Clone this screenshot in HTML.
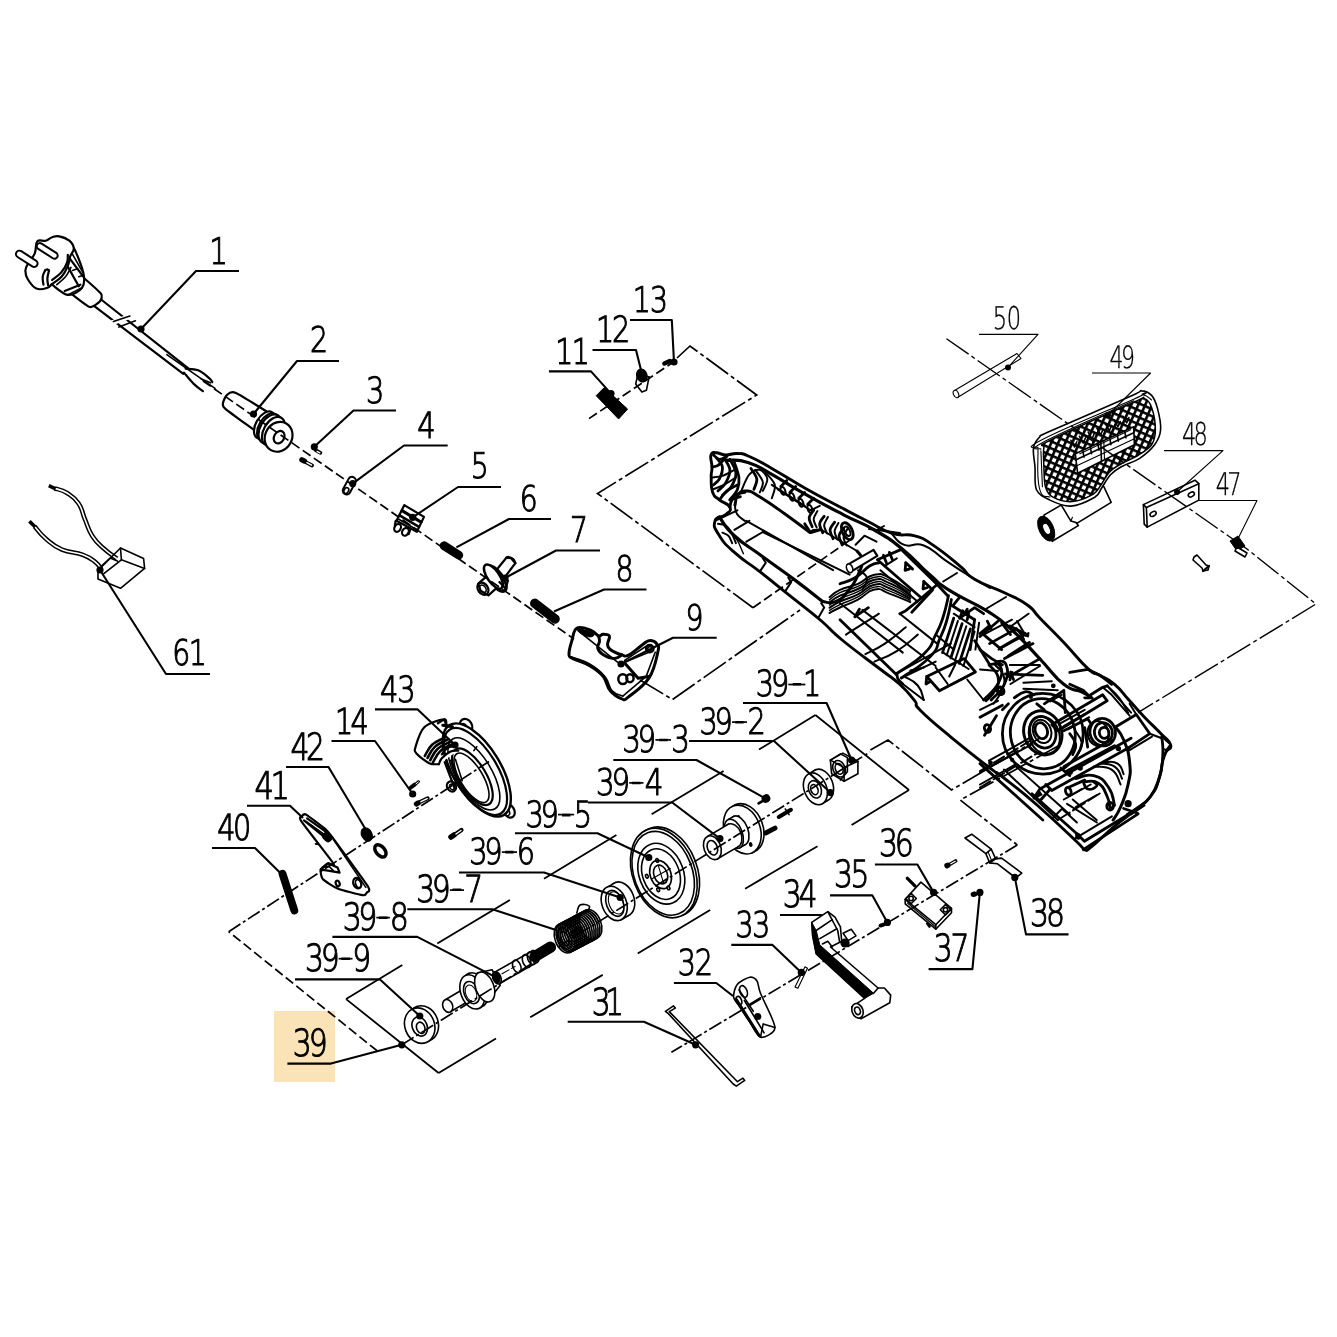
<!DOCTYPE html>
<html><head><meta charset="utf-8"><title>Exploded view</title>
<style>
html,body{margin:0;padding:0;background:#fff;}
svg{display:block}
.lb{text-rendering:geometricPrecision;font-family:"DejaVu Sans","Liberation Sans",sans-serif;font-weight:200;fill:#000;stroke:#000;}
.p{stroke:#000;fill:none;stroke-width:1.6;stroke-linecap:round;stroke-linejoin:round}
.pw{stroke:#000;fill:#fff;stroke-width:1.6;stroke-linecap:round;stroke-linejoin:round}
.t{stroke:#000;fill:none;stroke-width:1.1;stroke-linecap:round;stroke-linejoin:round}
.tw{stroke:#000;fill:#fff;stroke-width:1.1;stroke-linecap:round;stroke-linejoin:round}
.k{stroke:#000;fill:none;stroke-width:2.2;stroke-linecap:round;stroke-linejoin:round}
.kw{stroke:#000;fill:#fff;stroke-width:2.2;stroke-linecap:round;stroke-linejoin:round}
#hs .k{stroke-width:2.8} #hs .p{stroke-width:2.0} #hs .t{stroke-width:1.4}
.b{fill:#000;stroke:#000;stroke-width:1;stroke-linejoin:round}
</style></head>
<body>
<svg width="1337" height="1337" viewBox="0 0 1337 1337">
<rect width="1337" height="1337" fill="#fff"/>
<rect x="274" y="1011" width="61" height="71" fill="#fae3b7"/>
<g id="parts">
<!-- 10_plug.svg -->
<path class="k" d="M99.2 298.0L188.0 368.2" />
<path class="k" d="M93.0 305.1L183.3 373.9" />
<path class="kw" d="M83.5 277.6C85.3 279.2 99.5 291.4 101.1 293.8C102.8 296.1 101.2 299.9 100.0 301.2C98.9 302.5 92.6 307.7 89.8 307.0C87.0 306.3 73.6 295.4 71.8 294.1" />
<path class="kw" d="M67.8 245.4C68.9 245.9 71.5 243.8 74.1 248.6C76.7 253.3 82.2 267.1 83.5 273.7C84.8 280.2 84.6 284.3 82.0 287.8C79.3 291.4 72.8 295.4 67.8 294.9C62.9 294.4 54.7 286.4 52.1 284.7" />
<path class="k" d="M67.0 254.8L83.5 276.8" />
<path class="k" d="M64.7 261.1L78.8 286.3" />
<path class="p" d="M71.0 251.7L82.7 272.1" />
<path class="k" d="M64.7 291.0L80.4 284.7" />
<path class="p" d="M67.8 294.9L82.0 287.8" />
<path class="p" d="M78.8 276.8L83.5 275.3" />
<path class="p" d="M72.5 270.5L76.5 269.0" />
<path class="kw" d="M37.2 241.5C39.4 239.0 42.9 241.6 45.8 240.7C48.8 239.9 49.4 238.1 52.1 237.3C54.8 236.4 55.7 235.6 59.2 236.3C62.6 237.0 66.5 238.3 69.4 240.7C72.3 243.2 73.6 245.4 73.8 248.6C73.9 251.7 71.4 253.0 70.2 256.4C69.0 259.9 69.6 261.8 67.8 265.8C66.1 269.9 64.7 273.2 61.5 276.8C58.4 280.4 54.9 281.7 52.1 283.9C49.3 286.1 50.5 286.9 47.4 287.8C44.3 288.8 40.3 290.3 36.4 288.6C32.5 286.9 30.0 282.8 27.8 279.2C25.6 275.6 25.3 273.8 25.4 270.5C25.6 267.2 26.7 266.1 28.6 262.7C30.4 259.2 33.1 257.5 34.8 253.3C36.6 249.0 35.0 244.0 37.2 241.5Z" />
<path class="k" d="M52.1 280.0C54.0 278.4 58.6 275.6 61.5 272.1C64.5 268.7 65.8 266.1 67.0 262.7C68.3 259.2 67.7 256.4 67.8 254.8" />
<path class="p" d="M56.8 284.7C58.6 283.1 62.6 280.3 65.5 276.8C68.3 273.4 69.9 269.3 71.0 267.4" />
<path class="k" d="M45.1 270.5C44.6 271.8 43.0 274.0 42.7 276.8C42.4 279.7 43.3 283.1 43.5 284.7" />
<path class="k" d="M49.0 270.5C48.7 272.1 47.6 275.4 47.4 278.4C47.2 281.4 48.0 284.1 48.2 285.5" />
<path class="k" d="M45.1 270.5C45.5 270.3 46.3 269.4 47.1 269.4C47.9 269.4 48.6 270.3 49.0 270.5" />
<path d="M19.4 254.1L34.1 263.5" stroke="#000" stroke-width="8.9" stroke-linecap="round" fill="none"/>
<path d="M19.4 254.1L34.1 263.5" stroke="#fff" stroke-width="4.9" stroke-linecap="round" fill="none"/>
<path d="M39.9 246.2L54.5 255.6" stroke="#000" stroke-width="8.3" stroke-linecap="round" fill="none"/>
<path d="M39.9 246.2L54.5 255.6" stroke="#fff" stroke-width="4.3" stroke-linecap="round" fill="none"/>
<path class="p" d="M112.6 322.7L130.6 316.1" style="stroke:#fff;stroke-width:5"/>
<path class="p" d="M113.4 321.6L129.9 316.1" />
<path class="p" d="M118.9 327.1L135.4 320.8" />
<path class="k" d="M185.6 368.7C188.1 369.0 193.5 368.4 198.2 370.3C202.9 372.2 206.4 375.8 209.2 378.1C212.0 380.5 211.7 381.3 212.3 382.1" />
<path class="k" d="M184.0 372.6C185.9 374.8 189.7 379.9 193.5 383.6C197.2 387.3 201.0 389.7 202.9 391.2" />
<path class="p" d="M166.8 354.6L215.0 388.3" />
<path class="p" d="M201.3 378.9L210.7 382.8" />
<!-- 11_chain.svg -->
<path class="kw" d="M266.8 411.6C263.2 409.4 240.1 394.7 235.4 392.8C230.7 390.8 228.2 393.8 226.8 395.1C225.3 396.4 222.9 402.1 222.9 403.8C222.8 405.4 222.1 406.1 226.0 409.3C229.8 412.5 252.4 428.7 255.8 431.3" />
<ellipse class="kw" cx="264.5" cy="425.0" rx="8.6" ry="14.9" transform="rotate(30.0 264.5 425.0)" />
<ellipse class="kw" cx="267.6" cy="426.9" rx="8.6" ry="14.9" transform="rotate(30.0 267.6 426.9)" />
<ellipse class="kw" cx="270.0" cy="428.9" rx="9.7" ry="15.7" transform="rotate(30.0 270.0 428.9)" />
<ellipse class="kw" cx="273.4" cy="431.3" rx="9.7" ry="15.7" transform="rotate(30.0 273.4 431.3)" />
<ellipse class="kw" cx="278.6" cy="436.8" rx="13.4" ry="15.4" transform="rotate(30.0 278.6 436.8)" />
<ellipse class="k" cx="279.1" cy="437.2" rx="5.0" ry="6.6" transform="rotate(30.0 279.1 437.2)" />
<path d="M315.5 450.1L320.5 452.9" stroke="#000" stroke-width="3.5" stroke-linecap="round" fill="none"/>
<path d="M317.1 451.4L319.9 452.8" stroke="#fff" stroke-width="1.3" stroke-linecap="round" fill="none"/>
<path d="M301.9 459.8L304.5 461.1" stroke="#000" stroke-width="5.3" stroke-linecap="round" fill="none"/>
<path d="M306.1 462.4L312.1 465.5" stroke="#000" stroke-width="3.8" stroke-linecap="round" fill="none"/>
<path d="M306.9 462.7L311.6 465.2" stroke="#fff" stroke-width="1.4" stroke-linecap="round" fill="none"/>
<path d="M352.0 480.7L346.6 490.6" stroke="#000" stroke-width="9.7" stroke-linecap="round" fill="none"/>
<path d="M352.0 480.7L346.6 490.6" stroke="#fff" stroke-width="5.7" stroke-linecap="round" fill="none"/>
<ellipse class="p" cx="346.3" cy="490.6" rx="2.2" ry="3.1" transform="rotate(30.0 346.3 490.6)" />
<ellipse class="kw" cx="397.6" cy="527.9" rx="3.1" ry="4.1" transform="rotate(30.0 397.6 527.9)" />
<ellipse class="kw" cx="405.4" cy="531.8" rx="3.1" ry="4.1" transform="rotate(30.0 405.4 531.8)" />
<path class="k" d="M394.9 525.5L395.7 520.8" />
<path class="k" d="M408.7 534.2L410.6 528.7" />
<path class="kw" d="M396.5 520.8L404.3 505.1L424.0 516.9L416.9 531.8Z" />
<path class="k" d="M402.0 510.6L421.1 522.1" style="stroke-width:3"/>
<path class="k" d="M399.6 515.3L419.0 526.8" style="stroke-width:2.5"/>
<path class="p" d="M398.8 519.3L417.7 530.3" />
<path d="M444.1 545.7L458.8 555.1" stroke="#000" stroke-width="8.8" stroke-linecap="round" fill="none"/>
<path class="kw" d="M496.2 570.3L506.4 557.7L511.1 558.2L515.4 563.2L505.6 576.1" />
<path class="k" d="M506.4 557.7C506.9 557.6 507.4 556.6 508.8 557.0C510.2 557.3 512.2 558.1 513.5 559.3C514.8 560.6 515.0 562.5 515.4 563.2" />
<ellipse class="kw" cx="496.2" cy="578.6" rx="6.6" ry="14.9" transform="rotate(-35.0 496.2 578.6)" style="stroke-width:3"/>
<path class="kw" d="M489.2 574.2L478.2 583.7L480.5 590.7L488.4 595.4L497.0 587.6" />
<ellipse class="k" cx="482.9" cy="588.7" rx="5.0" ry="6.6" transform="rotate(-35.0 482.9 588.7)" />
<ellipse class="p" cx="482.9" cy="588.7" rx="2.8" ry="4.1" transform="rotate(-35.0 482.9 588.7)" />
<ellipse class="kw" cx="493.4" cy="576.6" rx="6.0" ry="14.1" transform="rotate(-35.0 493.4 576.6)" style="stroke-width:2.5"/>
<path class="k" d="M499.4 582.1L505.6 588.4L508.0 580.5" />
<path d="M534.7 603.3L555.1 619.0" stroke="#000" stroke-width="9.4" stroke-linecap="round" fill="none"/>
<path class="kw" d="M577.1 628.0C573.1 630.1 573.3 636.2 571.7 641.4C570.1 646.6 568.8 650.6 569.0 654.0C569.2 657.4 568.4 656.1 572.6 658.5C576.7 660.8 583.5 662.1 589.6 665.7C595.7 669.2 599.0 671.4 603.1 676.4C607.2 681.5 606.5 686.3 610.3 690.8C614.0 695.3 618.3 697.6 621.9 698.9C625.5 700.1 622.8 701.2 628.2 697.1C633.6 692.9 642.9 687.2 648.9 678.2C654.8 669.2 656.2 659.0 657.8 652.2C659.5 645.4 658.4 646.4 656.9 644.1C655.5 641.8 653.2 640.7 650.7 640.5C648.2 640.3 648.7 640.3 644.4 643.2C640.1 646.1 633.6 652.5 629.1 654.9C624.6 657.2 625.7 656.0 621.9 654.9C618.2 653.8 613.1 651.7 610.3 649.5C607.4 647.3 607.8 646.8 607.6 644.1C607.4 641.4 610.3 638.0 609.4 636.0C608.5 634.1 605.2 634.2 603.1 634.2C600.9 634.2 600.9 636.8 598.6 636.0C596.3 635.3 595.7 632.3 591.4 630.6C587.1 629.0 581.0 625.8 577.1 628.0Z" style="stroke-width:3"/>
<path class="b" d="M578.0 628.9C579.2 628.3 583.7 629.6 586.9 630.6C590.2 631.7 593.6 633.0 594.1 634.2C594.6 635.5 592.3 637.1 589.6 636.9C586.9 636.8 583.0 635.0 580.6 633.3C578.3 631.7 576.7 629.4 578.0 628.9Z" />
<path class="k" d="M598.6 636.0C598.8 637.1 599.7 639.1 599.5 641.4C599.3 643.8 597.2 645.2 597.7 647.7C598.2 650.2 599.0 651.8 602.2 654.0C605.4 656.1 609.9 658.3 613.9 658.5C617.8 658.7 620.3 655.6 621.9 654.9" style="stroke-width:3"/>
<path class="p" d="M570.8 656.7C574.5 658.1 582.8 659.9 589.6 663.9C596.4 667.8 600.4 671.0 604.9 676.4C609.4 681.8 608.5 686.8 612.1 690.8C615.7 694.7 620.7 695.1 622.8 696.2" />
<path class="p" d="M622.8 696.2L646.2 676.4L655.2 652.2" />
<path class="p" d="M578.0 630.6L617.5 662.1" />
<path class="p" d="M622.8 663.0L648.9 652.2" />
<path class="p" d="M624.6 660.3L648.0 645.0" />
<path class="k" d="M625.5 663.9L638.1 678.2L648.9 676.4" style="stroke-width:3"/>
<ellipse class="k" cx="622.8" cy="679.1" rx="4.5" ry="4.9" transform="rotate(0.0 622.8 679.1)" style="stroke-width:2.5"/>
<ellipse class="k" cx="630.0" cy="678.2" rx="3.6" ry="4.0" transform="rotate(0.0 630.0 678.2)" style="stroke-width:2.5"/>
<ellipse class="k" cx="649.8" cy="648.6" rx="3.8" ry="3.8" transform="rotate(0.0 649.8 648.6)" />
<ellipse class="p" cx="649.8" cy="648.6" rx="2.0" ry="2.0" transform="rotate(0.0 649.8 648.6)" />
<!-- 20_left.svg -->
<ellipse class="kw" cx="466.1" cy="725.8" rx="5.8" ry="7.3" transform="rotate(-31.0 466.1 725.8)" />
<ellipse class="kw" cx="508.9" cy="810.8" rx="5.3" ry="7.3" transform="rotate(-31.0 508.9 810.8)" />
<ellipse class="kw" cx="451.5" cy="786.5" rx="4.4" ry="5.3" transform="rotate(-31.0 451.5 786.5)" />
<ellipse class="p" cx="464.2" cy="727.7" rx="2.9" ry="4.4" transform="rotate(-31.0 464.2 727.7)" />
<ellipse class="p" cx="506.5" cy="811.8" rx="2.7" ry="4.1" transform="rotate(-31.0 506.5 811.8)" />
<ellipse class="p" cx="452.0" cy="787.0" rx="2.1" ry="2.9" transform="rotate(-31.0 452.0 787.0)" />
<path class="kw" d="M438.9 764.2C437.3 764.0 432.9 765.0 429.2 763.2C425.4 761.4 418.8 756.2 416.5 753.5C414.3 750.7 414.3 751.0 415.6 746.7C416.9 742.3 419.6 731.8 424.3 727.2C429.0 722.7 440.0 719.8 443.8 719.4C447.5 719.1 445.5 722.0 446.7 725.3C447.8 728.5 449.9 736.6 450.6 738.9" />
<path class="k" d="M437.9 723.3L444.2 719.4L447.6 729.2" />
<ellipse class="kw" cx="476.8" cy="770.0" rx="23.8" ry="52.5" transform="rotate(-31.3 476.8 770.0)" style="stroke-width:2.4"/>
<ellipse class="k" cx="475.4" cy="771.5" rx="21.9" ry="49.1" transform="rotate(-31.3 475.4 771.5)" />
<ellipse class="p" cx="473.9" cy="773.9" rx="17.5" ry="40.8" transform="rotate(-31.3 473.9 773.9)" />
<ellipse class="k" cx="472.4" cy="776.8" rx="13.6" ry="32.1" transform="rotate(-31.3 472.4 776.8)" />
<ellipse class="p" cx="471.5" cy="777.8" rx="11.2" ry="28.2" transform="rotate(-31.3 471.5 777.8)" />
<path class="k" d="M424.8 755.9C426.3 753.7 427.9 748.5 432.1 744.7C436.3 740.9 443.0 738.5 445.7 736.9" style="stroke-width:2.6"/>
<path class="k" d="M427.5 758.0C429.0 755.8 430.6 750.7 434.8 746.9C439.0 743.1 445.7 740.6 448.4 739.1" style="stroke-width:2.6"/>
<path class="k" d="M430.2 760.2C431.7 757.9 433.3 752.8 437.5 749.0C441.7 745.2 448.4 742.8 451.1 741.2" style="stroke-width:2.6"/>
<path class="k" d="M433.0 762.3C434.4 760.1 436.1 754.9 440.3 751.1C444.4 747.4 451.1 744.9 453.9 743.4" style="stroke-width:2.6"/>
<path class="kw" d="M438.9 764.2C439.5 763.0 439.5 760.9 441.8 758.3C444.1 755.8 447.3 753.1 450.6 751.5C453.9 750.0 456.8 750.8 458.3 750.6" />
<path class="k" d="M441.8 754.4C442.8 753.3 444.1 750.4 446.7 748.6C449.2 746.9 452.9 746.3 454.4 745.7" />
<path class="k" d="M442.8 725.3L452.5 726.7" style="stroke-width:3"/>
<path class="k" d="M444.7 762.2L454.4 787.5" />
<path class="p" d="M450.6 760.3L458.3 783.6" />
<path class="p" d="M455.4 759.3L462.2 780.7" />
<path class="p" d="M473.9 750.6L476.8 746.7" />
<path d="M410.2 788.0L414.6 784.6" stroke="#000" stroke-width="3.9" stroke-linecap="round" fill="none"/>
<path d="M415.6 784.1L418.5 781.7" stroke="#000" stroke-width="2.9" stroke-linecap="round" fill="none"/>
<path d="M416.0 783.8L418.3 782.0" stroke="#fff" stroke-width="1.0" stroke-linecap="round" fill="none"/>
<path d="M416.5 804.0L418.0 803.1" stroke="#000" stroke-width="5.3" stroke-linecap="round" fill="none"/>
<path d="M419.9 802.1L427.7 798.2" stroke="#000" stroke-width="3.9" stroke-linecap="round" fill="none"/>
<path d="M420.9 801.7L427.2 798.6" stroke="#fff" stroke-width="1.4" stroke-linecap="round" fill="none"/>
<path d="M451 837L454 835" stroke="#000" stroke-width="5.5" stroke-linecap="round"/><path d="M455 834.5L461.5 830" stroke="#000" stroke-width="4.2" stroke-linecap="round"/><path d="M456 834L461 830.5" stroke="#fff" stroke-width="1.4" stroke-linecap="round"/>
<path class="kw" d="M301.9 816.2C302.4 815.5 303.8 813.4 306.1 814.6C308.4 815.9 322.3 826.5 324.9 828.7C327.5 831.0 328.0 831.4 332.3 837.1C336.5 842.9 364.4 880.8 367.9 886.3C371.3 891.9 367.3 891.7 366.8 892.6C366.3 893.5 365.5 895.7 362.6 895.2C359.7 894.8 341.5 890.1 337.5 888.4C333.5 886.8 324.5 880.9 322.8 879.0C321.2 877.1 320.2 871.2 320.7 869.6C321.3 868.0 326.8 863.9 328.1 863.3C329.3 862.7 336.0 867.5 333.3 863.3C330.6 859.1 304.5 826.1 301.4 821.4C298.2 816.7 301.4 816.9 301.9 816.2Z" />
<path class="p" d="M333.3 839.2L365.8 887.4" />
<path class="k" d="M304.0 820.4L327.0 839.2" />
<path class="k" d="M307.1 818.3L329.1 834.0" />
<path class="p" d="M306.1 821.4L324.9 835.0" />
<path d="M326.0 836.1L328.1 838.2" stroke="#000" stroke-width="7.9" stroke-linecap="round" fill="none"/>
<path class="k" d="M320.7 869.6L328.1 863.3L337.5 867.5L339.6 872.7L328.1 870.6Z" />
<path class="p" d="M322.8 867.5L329.1 866.4L333.3 870.6" />
<ellipse class="k" cx="337.7" cy="883.4" rx="1.9" ry="2.9" transform="rotate(-20.0 337.7 883.4)" />
<ellipse class="k" cx="357.2" cy="883.2" rx="3.8" ry="5.4" transform="rotate(-20.0 357.2 883.2)" />
<ellipse class="p" cx="358.4" cy="883.7" rx="2.7" ry="4.2" transform="rotate(-20.0 358.4 883.7)" />
<path class="p" d="M315.5 843.9L318.6 844.5L317.1 842.4" />
<path d="M282.5 873.8L294.3 910.4" stroke="#000" stroke-width="7.9" stroke-linecap="round" fill="none"/>
<ellipse class="b" cx="366.8" cy="834.5" rx="5.2" ry="7.1" transform="rotate(-30.0 366.8 834.5)" />
<ellipse class="k" cx="380.4" cy="850.9" rx="4.4" ry="7.1" transform="rotate(-40.0 380.4 850.9)" style="stroke-width:3.5"/>
<!-- 30_p39.svg -->
<ellipse class="pw" cx="423.3" cy="1023.5" rx="14.8" ry="18.1" transform="rotate(-21.0 423.3 1023.5)" />
<path d="M429.8 1040.4L426.2 1042.5L413.2 1008.7L416.8 1006.6Z" fill="#fff" stroke="none"/>
<path class="p" d="M429.8 1040.4L426.2 1042.5" />
<path class="p" d="M413.2 1008.7L416.8 1006.6" />
<ellipse class="pw" cx="419.7" cy="1025.6" rx="14.8" ry="18.1" transform="rotate(-21.0 419.7 1025.6)" />
<ellipse class="p" cx="419.7" cy="1026.5" rx="7.4" ry="9.9" transform="rotate(-21.0 419.7 1026.5)" />
<ellipse class="p" cx="420.7" cy="1027.8" rx="4.1" ry="5.8" transform="rotate(-21.0 420.7 1027.8)" />
<ellipse class="pw" cx="475.6" cy="989.4" rx="4.9" ry="6.6" transform="rotate(-21.0 475.6 989.4)" />
<path d="M478.0 995.6L450.0 1012.0L445.3 999.7L473.3 983.3Z" fill="#fff" stroke="none"/>
<path class="p" d="M478.0 995.6L450.0 1012.0" />
<path class="p" d="M445.3 999.7L473.3 983.3" />
<ellipse class="pw" cx="447.7" cy="1005.9" rx="4.9" ry="6.6" transform="rotate(-21.0 447.7 1005.9)" />
<path class="t" d="M465.8 996.0L469.0 1000.9" />
<ellipse class="t" cx="468.2" cy="997.7" rx="1.3" ry="2.0" transform="rotate(-21.0 468.2 997.7)" />
<ellipse class="pw" cx="475.6" cy="989.9" rx="11.5" ry="17.8" transform="rotate(-21.0 475.6 989.9)" />
<path d="M482.0 1006.5L478.7 1008.5L466.0 975.3L469.3 973.3Z" fill="#fff" stroke="none"/>
<path class="p" d="M482.0 1006.5L478.7 1008.5" />
<path class="p" d="M466.0 975.3L469.3 973.3" />
<ellipse class="pw" cx="472.3" cy="991.9" rx="11.5" ry="17.8" transform="rotate(-21.0 472.3 991.9)" />
<ellipse class="p" cx="471.5" cy="992.6" rx="7.4" ry="11.5" transform="rotate(-21.0 471.5 992.6)" />
<ellipse class="t" cx="471.0" cy="993.2" rx="5.3" ry="8.6" transform="rotate(-21.0 471.0 993.2)" />
<path class="pw" d="M477.3 973.0L492.1 969.7L500.3 985.3L487.2 1001.8Z" />
<ellipse class="pw" cx="484.7" cy="987.0" rx="9.1" ry="15.6" transform="rotate(-21.0 484.7 987.0)" />
<ellipse class="pw" cx="534.9" cy="956.5" rx="3.9" ry="6.3" transform="rotate(-21.0 534.9 956.5)" />
<path d="M537.1 962.4L499.3 983.7L494.8 972.1L532.6 950.7Z" fill="#fff" stroke="none"/>
<path class="p" d="M537.1 962.4L499.3 983.7" />
<path class="p" d="M494.8 972.1L532.6 950.7" />
<ellipse class="pw" cx="497.0" cy="977.9" rx="3.9" ry="6.3" transform="rotate(-21.0 497.0 977.9)" />
<ellipse class="b" cx="496.2" cy="977.4" rx="3.6" ry="5.9" transform="rotate(-21.0 496.2 977.4)" />
<ellipse class="p" cx="516.8" cy="966.4" rx="3.9" ry="6.6" transform="rotate(-21.0 516.8 966.4)" />
<ellipse class="p" cx="526.6" cy="961.0" rx="3.9" ry="6.6" transform="rotate(-21.0 526.6 961.0)" />
<ellipse class="p" cx="531.6" cy="958.2" rx="3.9" ry="6.6" transform="rotate(-21.0 531.6 958.2)" />
<path class="t" d="M502.0 973.8L515.1 966.4" stroke-dasharray="8 3"/>
<path d="M534.9 956.5L550.5 947.1" stroke="#000" stroke-width="11.2" stroke-linecap="round" fill="none"/>
<ellipse class="pw" cx="591.6" cy="924.1" rx="9.5" ry="15.1" transform="rotate(-21.0 591.6 924.1)" />
<path d="M597.1 938.2L569.9 952.6L559.1 924.3L586.2 910.0Z" fill="#fff" stroke="none"/>
<path class="p" d="M597.1 938.2L569.9 952.6" />
<path class="p" d="M559.1 924.3L586.2 910.0" />
<ellipse class="pw" cx="564.5" cy="938.4" rx="9.5" ry="15.1" transform="rotate(-21.0 564.5 938.4)" />
<ellipse class="p" cx="566.4" cy="937.4" rx="9.5" ry="15.1" transform="rotate(-21.0 566.4 937.4)" style="stroke-width:1.7"/>
<ellipse class="p" cx="568.4" cy="936.4" rx="9.5" ry="15.1" transform="rotate(-21.0 568.4 936.4)" style="stroke-width:1.7"/>
<ellipse class="p" cx="570.3" cy="935.3" rx="9.5" ry="15.1" transform="rotate(-21.0 570.3 935.3)" style="stroke-width:1.7"/>
<ellipse class="p" cx="572.2" cy="934.3" rx="9.5" ry="15.1" transform="rotate(-21.0 572.2 934.3)" style="stroke-width:1.7"/>
<ellipse class="p" cx="574.2" cy="933.3" rx="9.5" ry="15.1" transform="rotate(-21.0 574.2 933.3)" style="stroke-width:1.7"/>
<ellipse class="p" cx="576.1" cy="932.3" rx="9.5" ry="15.1" transform="rotate(-21.0 576.1 932.3)" style="stroke-width:1.7"/>
<ellipse class="p" cx="578.1" cy="931.3" rx="9.5" ry="15.1" transform="rotate(-21.0 578.1 931.3)" style="stroke-width:1.7"/>
<ellipse class="p" cx="580.0" cy="930.2" rx="9.5" ry="15.1" transform="rotate(-21.0 580.0 930.2)" style="stroke-width:1.7"/>
<ellipse class="p" cx="581.9" cy="929.2" rx="9.5" ry="15.1" transform="rotate(-21.0 581.9 929.2)" style="stroke-width:1.7"/>
<ellipse class="p" cx="583.9" cy="928.2" rx="9.5" ry="15.1" transform="rotate(-21.0 583.9 928.2)" style="stroke-width:1.7"/>
<ellipse class="p" cx="585.8" cy="927.2" rx="9.5" ry="15.1" transform="rotate(-21.0 585.8 927.2)" style="stroke-width:1.7"/>
<ellipse class="p" cx="587.8" cy="926.1" rx="9.5" ry="15.1" transform="rotate(-21.0 587.8 926.1)" style="stroke-width:1.7"/>
<ellipse class="p" cx="589.7" cy="925.1" rx="9.5" ry="15.1" transform="rotate(-21.0 589.7 925.1)" style="stroke-width:1.7"/>
<ellipse class="p" cx="564.5" cy="938.4" rx="6.6" ry="11.2" transform="rotate(-21.0 564.5 938.4)" />
<ellipse class="p" cx="564.8" cy="938.7" rx="4.1" ry="7.4" transform="rotate(-21.0 564.8 938.7)" />
<path class="p" d="M576.8 912.9C577.5 911.3 577.7 906.4 580.1 905.0C582.6 903.6 587.7 904.7 589.2 906.0C590.7 907.3 587.9 910.5 587.5 911.6" />
<ellipse class="pw" cx="621.7" cy="899.1" rx="12.2" ry="17.8" transform="rotate(-21.0 621.7 899.1)" />
<path d="M628.1 915.7L620.6 920.0L607.9 886.9L615.3 882.6Z" fill="#fff" stroke="none"/>
<path class="p" d="M628.1 915.7L620.6 920.0" />
<path class="p" d="M607.9 886.9L615.3 882.6" />
<ellipse class="pw" cx="614.2" cy="903.4" rx="12.2" ry="17.8" transform="rotate(-21.0 614.2 903.4)" />
<ellipse class="p" cx="614.8" cy="903.4" rx="8.4" ry="13.5" transform="rotate(-21.0 614.8 903.4)" />
<ellipse class="t" cx="616.1" cy="902.9" rx="7.1" ry="11.6" transform="rotate(-21.0 616.1 902.9)" />
<ellipse class="pw" cx="666.2" cy="871.7" rx="31.0" ry="46.4" transform="rotate(-21.0 666.2 871.7)" />
<ellipse class="pw" cx="663.8" cy="873.0" rx="31.0" ry="46.4" transform="rotate(-21.0 663.8 873.0)" />
<ellipse class="p" cx="663.2" cy="873.3" rx="29.0" ry="43.4" transform="rotate(-21.0 663.2 873.3)" />
<ellipse class="p" cx="661.3" cy="873.7" rx="22.1" ry="31.4" transform="rotate(-21.0 661.3 873.7)" />
<ellipse class="p" cx="661.0" cy="874.1" rx="18.3" ry="26.2" transform="rotate(-21.0 661.0 874.1)" />
<ellipse class="p" cx="660.6" cy="874.5" rx="10.3" ry="14.6" transform="rotate(-21.0 660.6 874.5)" />
<ellipse class="p" cx="660.6" cy="874.5" rx="6.7" ry="9.7" transform="rotate(-21.0 660.6 874.5)" />
<ellipse class="p" cx="657.2" cy="860.4" rx="1.3" ry="1.9" transform="rotate(-21.0 657.2 860.4)" />
<ellipse class="p" cx="646.9" cy="876.3" rx="1.3" ry="1.9" transform="rotate(-21.0 646.9 876.3)" />
<ellipse class="p" cx="658.2" cy="889.8" rx="1.3" ry="1.9" transform="rotate(-21.0 658.2 889.8)" />
<ellipse class="p" cx="668.5" cy="887.9" rx="1.3" ry="1.9" transform="rotate(-21.0 668.5 887.9)" />
<path class="t" d="M651.6 879.1L670.3 868.5" />
<path class="t" d="M658.2 865.1L663.8 883.8" />
<ellipse class="pw" cx="745.1" cy="828.1" rx="17.8" ry="25.2" transform="rotate(-21.0 745.1 828.1)" />
<path d="M754.2 851.7L751.4 853.2L733.3 806.0L736.1 804.5Z" fill="#fff" stroke="none"/>
<path class="p" d="M754.2 851.7L751.4 853.2" />
<path class="p" d="M733.3 806.0L736.1 804.5" />
<ellipse class="pw" cx="742.3" cy="829.6" rx="17.8" ry="25.2" transform="rotate(-21.0 742.3 829.6)" />
<ellipse class="b" cx="738.6" cy="817.4" rx="1.3" ry="1.9" transform="rotate(-21.0 738.6 817.4)" />
<ellipse class="b" cx="750.7" cy="844.5" rx="1.3" ry="1.9" transform="rotate(-21.0 750.7 844.5)" />
<ellipse class="pw" cx="739.5" cy="830.5" rx="8.4" ry="15.3" transform="rotate(-21.0 739.5 830.5)" />
<path d="M745.0 844.8L739.4 848.0L728.4 819.4L734.0 816.2Z" fill="#fff" stroke="none"/>
<path class="p" d="M745.0 844.8L739.4 848.0" />
<path class="p" d="M728.4 819.4L734.0 816.2" />
<ellipse class="pw" cx="733.9" cy="833.7" rx="8.4" ry="15.3" transform="rotate(-21.0 733.9 833.7)" />
<ellipse class="pw" cx="733.0" cy="835.6" rx="8.4" ry="12.3" transform="rotate(-21.0 733.0 835.6)" />
<path d="M737.4 847.1L716.8 859.2L708.0 836.2L728.5 824.1Z" fill="#fff" stroke="none"/>
<path class="p" d="M737.4 847.1L716.8 859.2" />
<path class="p" d="M708.0 836.2L728.5 824.1" />
<ellipse class="pw" cx="712.4" cy="847.7" rx="8.4" ry="12.3" transform="rotate(-21.0 712.4 847.7)" />
<ellipse class="p" cx="712.4" cy="847.7" rx="4.9" ry="7.5" transform="rotate(-21.0 712.4 847.7)" />
<path d="M765.7 798.7L766.2 798.4" stroke="#000" stroke-width="8.2" stroke-linecap="round" fill="none"/>
<path d="M758.6 803.4L762.9 800.8" stroke="#000" stroke-width="2.6" stroke-linecap="round" fill="none"/>
<path d="M778.8 816.9L790.9 809.8" stroke="#000" stroke-width="4.1" stroke-linecap="round" fill="none"/>
<path class="p" d="M785.3 809.0L789.1 814.6" />
<path d="M765.7 833.0L775.0 828.1" stroke="#000" stroke-width="4.9" stroke-linecap="round" fill="none"/>
<ellipse class="pw" cx="821.6" cy="785.1" rx="11.2" ry="16.5" transform="rotate(-21.0 821.6 785.1)" />
<path d="M827.5 800.5L821.3 804.2L809.5 773.4L815.7 769.7Z" fill="#fff" stroke="none"/>
<path class="p" d="M827.5 800.5L821.3 804.2" />
<path class="p" d="M809.5 773.4L815.7 769.7" />
<ellipse class="pw" cx="815.4" cy="788.8" rx="11.2" ry="16.5" transform="rotate(-21.0 815.4 788.8)" />
<ellipse class="p" cx="814.9" cy="789.3" rx="6.2" ry="9.0" transform="rotate(-21.0 814.9 789.3)" />
<ellipse class="p" cx="814.4" cy="789.6" rx="3.5" ry="5.2" transform="rotate(-21.0 814.4 789.6)" />
<path class="pw" d="M830.4 760.1L842.9 753.1L857.9 761.3L857.9 773.8L844.1 781.3L831.6 773.8Z" />
<path class="p" d="M830.4 760.1L844.1 767.6L844.1 781.3" />
<path class="p" d="M844.1 767.6L857.9 761.3" />
<path class="p" d="M830.4 760.1L840.4 753.9L847.4 757.6L847.4 771.8L840.4 780.1" />
<ellipse class="p" cx="839.1" cy="768.8" rx="6.0" ry="8.5" transform="rotate(-21.0 839.1 768.8)" />
<ellipse class="p" cx="839.1" cy="768.8" rx="3.7" ry="5.5" transform="rotate(-21.0 839.1 768.8)" />
<!-- 40_misc.svg -->
<path class="pw" d="M668.1 1013.4L665.4 1011.3L673.5 1005.9L675.3 1008.1L669.3 1011.6L737.5 1081.7L742.9 1078.2L744.7 1080.4L736.3 1086.1L733.2 1084.0Z" />
<path class="pw" d="M737.2 984.4C739.3 981.7 747.1 977.7 749.8 977.2C752.4 976.7 755.5 978.6 756.9 980.8C758.4 982.9 758.1 987.1 760.5 993.3C762.9 999.6 774.9 1021.6 774.9 1027.4C774.9 1033.3 763.9 1038.0 760.5 1037.3C757.2 1036.6 752.6 1026.2 749.8 1022.1C746.9 1017.9 741.1 1009.3 739.0 1005.9C736.8 1002.6 733.8 999.8 733.6 996.9C733.4 994.1 735.0 987.0 737.2 984.4Z" />
<path class="k" d="M736.3 999.6L759.1 1035.5" style="stroke-width:3"/>
<path class="p" d="M744.4 1000.5L764.1 1032.8" />
<path class="p" d="M749.8 1004.1L760.5 997.8" />
<path class="p" d="M739.0 989.8L753.3 1011.3" />
<ellipse class="p" cx="743.5" cy="991.5" rx="3.6" ry="6.1" transform="rotate(-21.0 743.5 991.5)" />
<ellipse class="p" cx="739.0" cy="1000.5" rx="2.5" ry="4.3" transform="rotate(-21.0 739.0 1000.5)" />
<path class="p" d="M760.5 1037.3L763.2 1023.9L774.9 1027.4" />
<path class="tw" d="M805.0 966.8L807.5 968.2L797.9 988.3L795.0 986.9Z" />
<path class="pw" d="M811.7 922.4L827.8 911.7L835.0 917.1L840.4 926.9L841.7 941.3L830.5 947.0L878.1 988.0L884.4 988.0L890.7 995.1L889.8 1002.7L861.0 1018.8L853.9 1014.9L851.7 1006.8L864.6 998.4L816.2 953.9L812.6 935.9Z" />
<path d="M811.7 922.4L816.2 930.5L819.8 944.9L873.6 993.3L864.6 998.4L816.2 953.9L812.6 935.9Z" fill="#000" stroke="#000" stroke-width="1"/>
<path class="p" d="M816.2 930.5L832.3 919.7" />
<path class="p" d="M819.8 938.6L836.8 928.7" />
<path class="p" d="M827.8 911.7L837.7 930.5L839.5 941.3" />
<path class="p" d="M822.4 944.0L827.8 941.3L832.3 947.0" />
<path class="p" d="M873.6 993.3L878.1 988.0" />
<ellipse class="pw" cx="857.5" cy="1010.8" rx="5.4" ry="7.5" transform="rotate(-21.0 857.5 1010.8)" />
<ellipse class="p" cx="857.5" cy="1010.8" rx="2.7" ry="3.9" transform="rotate(-21.0 857.5 1010.8)" />
<path class="pw" d="M843.1 933.2L851.2 929.3L856.0 935.9L848.1 940.6Z" />
<path d="M844.9 943.1L845.2 943.1" stroke="#000" stroke-width="9.0" stroke-linecap="round" fill="none"/>
<path d="M907.4 878.3L914.9 885.8" stroke="#000" stroke-width="3.3" stroke-linecap="round" fill="none"/>
<path class="pw" d="M905.2 899.3L920.9 882.1L951.5 908.3L951.5 912.7L935.8 929.2L905.2 903.8Z" />
<path class="p" d="M905.2 899.3L935.8 924.7L951.5 908.3" />
<path class="p" d="M935.8 924.7L935.8 929.2" />
<path class="t" d="M907.4 903.0L935.8 927.0" />
<path class="p" d="M905.9 898.5L911.1 893.3L916.4 898.5L911.1 903.8Z" />
<ellipse class="p" cx="911.1" cy="898.5" rx="2.2" ry="2.2" transform="rotate(0.0 911.1 898.5)" />
<path class="p" d="M940.3 909.8L945.5 904.5L950.8 909.8L945.5 915.0Z" />
<ellipse class="p" cx="945.5" cy="909.8" rx="2.2" ry="2.2" transform="rotate(0.0 945.5 909.8)" />
<path d="M927.3 923.5L929.5 926.5" stroke="#000" stroke-width="2.7" stroke-linecap="round" fill="none"/>
<path d="M947.0 865.6L947.8 865.3" stroke="#000" stroke-width="5.4" stroke-linecap="round" fill="none"/>
<path d="M950.0 864.3L955.6 861.0" stroke="#000" stroke-width="3.6" stroke-linecap="round" fill="none"/>
<path d="M950.8 863.8L955.3 861.3" stroke="#fff" stroke-width="1.2" stroke-linecap="round" fill="none"/>
<path d="M880.5 925.6L883.5 924.7" stroke="#000" stroke-width="3.9" stroke-linecap="round" fill="none"/>
<path d="M973.2 894.5L974.7 894.0" stroke="#000" stroke-width="5.1" stroke-linecap="round" fill="none"/>
<path class="pw" d="M965.0 838.0L971.7 834.2L991.2 849.2L995.7 858.9L1001.6 858.1L1021.8 873.1L1015.8 878.0L997.2 863.7L989.7 862.9L985.9 853.7Z" />
<path class="p" d="M985.9 853.7L991.2 849.2" />
<path class="p" d="M989.7 862.9L995.7 858.9" />
<path class="t" d="M988.2 852.2L991.9 861.1" />
<path d="M54.6 488.3C57.5 489.4 61.5 489.5 67.1 493.0C72.7 496.6 74.5 497.4 78.6 503.5C82.8 509.6 81.7 511.6 84.9 519.2C88.1 526.8 87.9 529.1 92.3 536.0C96.6 542.8 98.0 543.3 103.8 548.5C109.5 553.8 113.8 556.2 116.9 558.5" stroke="#000" stroke-width="4.6" fill="none" stroke-linecap="butt"/>
<path d="M54.6 488.3C57.5 489.4 61.5 489.5 67.1 493.0C72.7 496.6 74.5 497.4 78.6 503.5C82.8 509.6 81.7 511.6 84.9 519.2C88.1 526.8 87.9 529.1 92.3 536.0C96.6 542.8 98.0 543.3 103.8 548.5C109.5 553.8 113.8 556.2 116.9 558.5" stroke="#fff" stroke-width="1.6" fill="none" stroke-linecap="butt"/>
<path d="M34.7 526.5C37.3 529.5 39.8 533.7 46.2 539.1C52.5 544.5 53.3 545.9 61.9 549.6C70.4 553.2 75.0 551.9 82.8 554.8C90.6 557.7 91.1 558.8 95.4 562.1C99.7 565.4 99.8 567.4 101.2 569.0" stroke="#000" stroke-width="4.6" fill="none" stroke-linecap="butt"/>
<path d="M34.7 526.5C37.3 529.5 39.8 533.7 46.2 539.1C52.5 544.5 53.3 545.9 61.9 549.6C70.4 553.2 75.0 551.9 82.8 554.8C90.6 557.7 91.1 558.8 95.4 562.1C99.7 565.4 99.8 567.4 101.2 569.0" stroke="#fff" stroke-width="1.6" fill="none" stroke-linecap="butt"/>
<path d="M48.8 485.7L55.6 488.8" stroke="#000" stroke-width="3.6" stroke-linecap="butt" fill="none"/>
<path d="M29.4 521.3L35.2 527.1" stroke="#000" stroke-width="3.6" stroke-linecap="butt" fill="none"/>
<path class="p" d="M98.0 570.5L120.5 548.0L143.6 558.5L144.6 568.4L120.5 588.3L98.0 578.9Z" />
<path class="p" d="M120.5 548.0L121.4 559.8L144.6 568.4" />
<path class="p" d="M121.4 559.8L103.8 573.7" />
<path class="p" d="M101.7 565.8L110.1 558.0L117.4 561.1" />
<path class="b" d="M596.2 395.7L604.2 387.6L627.6 409.1L618.6 419.0Z" />
<path class="pw" d="M635.7 384.0L641.9 392.1L646.4 390.3L649.1 376.8L637.5 375.9Z" />
<ellipse class="b" cx="641.9" cy="375.5" rx="5.2" ry="6.7" transform="rotate(-20.0 641.9 375.5)" />
<path d="M664.4 363.5L669.8 361.1" stroke="#000" stroke-width="4.5" stroke-linecap="round" fill="none"/>
<!-- 50_housing_a.svg -->
<g id="hs">
<path class="kw" d="M711.0 455.0C712.2 451.2 712.7 452.7 716.5 452.7C720.3 452.7 719.8 454.8 725.4 455.0C731.0 455.2 731.0 453.1 737.4 453.5C743.8 453.9 740.2 452.5 749.4 456.5C758.6 460.5 757.1 460.0 771.8 468.4C786.5 476.8 785.6 477.1 804.7 487.9C823.8 498.7 826.5 499.7 843.6 508.8C860.7 517.9 856.0 515.4 869.0 522.0C882.0 528.6 880.2 529.7 892.4 533.4C904.6 537.1 904.1 532.8 914.8 535.9C925.5 539.0 920.7 536.9 932.7 544.9C944.7 552.9 948.5 556.6 959.7 565.8C970.9 575.0 962.7 572.1 974.6 579.3C986.5 586.5 990.5 585.9 1004.5 592.7C1018.5 599.5 1017.5 597.9 1027.0 604.7C1036.5 611.5 1030.2 608.1 1040.0 618.2C1049.8 628.3 1051.1 629.0 1063.8 642.4C1076.5 655.8 1078.1 659.6 1087.7 668.4C1097.3 677.2 1092.5 671.1 1099.7 675.3C1106.9 679.5 1106.6 677.5 1114.6 684.3C1122.6 691.1 1121.6 692.0 1129.6 700.8C1137.6 709.6 1136.1 708.4 1144.5 717.2C1152.9 726.0 1154.0 726.3 1161.0 733.7C1168.0 741.1 1169.4 740.1 1170.7 745.0C1172.0 749.9 1168.2 747.5 1166.0 752.0C1163.8 756.5 1164.2 755.3 1162.5 762.0C1160.8 768.7 1162.7 767.8 1159.5 777.0C1156.3 786.2 1156.9 787.7 1150.5 796.5C1144.1 805.3 1145.2 802.1 1135.6 810.0C1126.0 817.9 1126.0 816.6 1114.4 826.3C1102.8 836.0 1100.0 840.1 1092.0 846.3C1084.0 852.5 1088.4 850.6 1084.4 849.5C1080.4 848.4 1089.6 853.9 1077.0 842.0C1064.4 830.1 1057.0 822.5 1037.0 805.0C1017.0 787.5 1014.3 786.2 1002.0 776.5C989.7 766.8 1004.1 779.0 990.7 768.7C977.3 758.4 970.4 753.2 951.8 737.8C933.2 722.4 931.0 721.0 921.0 711.0C911.0 701.0 920.2 707.6 914.4 700.4C908.6 693.2 908.6 692.4 899.4 684.0C890.2 675.6 895.3 680.7 880.0 669.0C864.7 657.3 858.2 653.2 842.1 640.0C826.0 626.8 833.6 631.3 819.7 619.5C805.8 607.7 805.8 608.4 789.8 595.6C773.8 582.8 774.2 582.8 759.8 571.6C745.4 560.4 746.7 563.3 735.9 553.7C725.1 544.1 725.0 544.5 719.4 535.7C713.8 526.9 713.4 526.4 715.0 520.8C716.6 515.2 721.4 518.4 725.4 514.8C729.4 511.2 731.5 511.3 729.9 507.3C728.3 503.3 724.0 503.8 719.4 499.8C714.8 495.8 714.9 498.4 712.7 492.4C710.5 486.4 711.4 484.2 711.2 477.4C711.0 470.6 712.1 473.0 712.0 467.0C711.9 461.0 709.8 458.8 711.0 455.0Z" style="stroke-width:2.9"/>
<path class="k" d="M727.0 460.2C732.6 460.8 736.0 458.6 747.9 462.4C759.8 466.2 756.7 466.0 771.8 474.4C786.9 482.8 785.6 483.1 804.7 493.9C823.8 504.7 825.0 505.2 843.6 514.8C862.2 524.4 858.6 520.8 874.4 530.0C890.2 539.2 888.0 537.5 902.8 549.4C917.6 561.3 917.0 563.7 929.8 574.8C942.6 585.9 935.6 581.6 950.7 591.2C965.8 600.8 970.3 600.4 986.6 610.7C1002.9 621.0 997.8 617.1 1012.0 630.0C1026.2 642.9 1026.2 644.5 1040.0 659.0C1053.8 673.5 1052.7 675.6 1063.8 684.3C1074.9 693.0 1074.2 688.1 1081.7 691.8C1089.2 695.5 1089.3 696.3 1092.0 698.0" style="stroke-width:3.2"/>
<path class="p" d="M892.0 534.0C895.3 536.9 895.8 541.8 904.3 544.9C912.8 548.0 913.0 541.5 923.8 545.5C934.6 549.5 932.8 551.8 944.7 559.8C956.6 567.8 956.5 568.0 968.6 575.5C980.7 583.0 984.3 584.7 990.0 588.0" />
<path class="p" d="M869.0 529.0C873.3 529.5 876.7 529.9 885.0 531.0C893.3 532.1 896.0 532.5 900.0 533.0" />
<path class="p" d="M943.2 581.5L957.0 573.0" />
<path class="p" d="M986.6 608.5L1006.0 597.0" />
<path class="p" d="M1012.0 625.5L1028.5 613.7" />
<path class="p" d="M875.0 531.0L884.0 526.0" />
<path class="p" d="M1017.0 621.0L1026.0 636.0" />
<path class="k" d="M719.4 517.0C723.4 522.0 722.8 525.1 734.4 535.7C746.0 546.3 746.5 544.7 762.8 556.7C779.1 568.7 779.7 568.6 795.7 580.6C811.7 592.6 815.5 596.0 822.7 601.6" style="stroke-width:3.2"/>
<path class="k" d="M735.0 505.0C735.8 502.3 734.8 498.7 738.0 495.0C741.2 491.3 741.1 490.5 747.0 491.0C752.9 491.5 749.9 490.9 760.0 497.0C770.1 503.1 771.7 504.5 785.0 514.0C798.3 523.5 803.3 527.6 810.0 532.5" style="stroke-width:3"/>
<path class="k" d="M810.0 532.5L813.0 530.0L821.0 529.5L857.0 551.0" style="stroke-width:2"/>
<path class="k" d="M857.0 551.0C858.3 553.4 861.7 553.6 862.0 560.0C862.3 566.4 861.5 567.0 858.0 575.0C854.5 583.0 854.9 582.9 849.0 590.0C843.1 597.1 843.0 598.4 836.0 601.5C829.0 604.6 826.2 601.6 822.7 601.6" style="stroke-width:3"/>
<path class="k" d="M735.0 505.0C735.5 507.4 734.3 509.7 737.0 514.0C739.7 518.3 742.9 519.1 745.0 521.0" style="stroke-width:2"/>
<path class="p" d="M746.4 520.8L833.1 570.1" />
<path class="p" d="M762.8 532.0L849.6 574.6" />
<path class="k" d="M716.5 458.0C717.5 459.4 721.9 463.4 722.4 466.9C722.9 470.4 720.9 475.9 719.4 478.9C718.0 481.9 714.5 483.9 713.5 484.9" />
<path class="k" d="M723.9 458.0C724.9 459.9 729.7 465.7 729.9 469.9C730.2 474.2 727.4 479.9 725.4 483.4C723.4 486.9 719.2 489.6 718.0 490.9" />
<path class="k" d="M729.9 459.4C730.9 461.7 735.7 468.4 735.9 472.9C736.2 477.4 733.7 482.6 731.4 486.4C729.2 490.1 723.9 493.9 722.4 495.3" />
<path class="p" d="M712.0 477.4C713.7 477.1 718.7 477.1 722.4 475.9C726.2 474.7 732.4 470.9 734.4 469.9" />
<path class="p" d="M712.7 489.4C714.6 488.6 720.1 486.9 723.9 484.9C727.8 482.9 733.9 478.6 735.9 477.4" />
<path class="k" d="M712.0 466.9C713.0 466.7 716.0 466.7 718.0 465.4C719.9 464.2 722.9 460.4 723.9 459.4" />
<path class="k" d="M713.5 455.0C714.5 455.7 717.2 459.2 719.4 459.4C721.7 459.7 725.7 457.0 726.9 456.5" />
<path class="k" d="M719.4 499.8C720.7 498.3 723.9 493.4 726.9 490.9C729.9 488.4 735.7 485.9 737.4 484.9" />
<path class="k" d="M734.4 462.4C735.2 464.9 738.4 472.9 738.9 477.4C739.4 481.9 738.9 485.6 737.4 489.4C735.9 493.1 731.2 498.1 729.9 499.8" />
<path class="k" d="M729.9 499.8C731.2 498.8 734.9 495.1 737.4 493.9C739.9 492.6 743.6 492.6 744.9 492.4" />
<path class="k" d="M729.9 507.3C730.3 506.1 730.4 501.6 732.2 499.8C733.9 498.1 739.0 497.3 740.4 496.8" />
<path class="p" d="M741.9 489.4C743.1 486.9 746.4 477.6 749.4 474.4C752.4 471.2 756.8 469.2 759.8 469.9C762.8 470.7 766.8 475.4 767.3 478.9C767.8 482.4 763.6 488.9 762.8 490.9" />
<path class="k" d="M750.9 468.4C751.9 470.2 756.3 475.4 756.8 478.9C757.3 482.4 754.4 487.6 753.9 489.4" />
<path class="p" d="M755.3 469.9C756.6 471.9 762.1 478.1 762.8 481.9C763.6 485.6 760.3 490.6 759.8 492.4" />
<path class="p" d="M765.8 472.9C767.3 474.9 773.8 480.6 774.8 484.9C775.8 489.1 772.3 496.1 771.8 498.3" />
<path class="p" d="M715.0 520.8L737.4 510.3" />
<path class="p" d="M718.0 523.8C719.2 524.0 723.2 523.8 725.4 525.3C727.7 526.8 729.7 529.8 731.4 532.7C733.2 535.7 735.2 541.5 735.9 543.2" />
<path class="p" d="M722.4 532.7C723.4 533.2 726.8 534.0 728.4 535.7C730.0 537.5 731.5 542.0 732.2 543.2" />
<path class="p" d="M734.4 529.8L749.4 520.8" />
<path class="p" d="M746.4 541.7L762.8 532.0" />
<path class="t" d="M734.4 535.7L738.9 543.2L743.4 553.7" />
<path class="p" d="M759.8 571.6L765.8 562.7L762.8 558.2" />
<path class="p" d="M785.3 591.1L791.2 582.1L788.3 577.6" />
<path class="p" d="M818.2 618.0L824.2 607.5L821.2 603.1" />
<path class="k" d="M780.8 486.4L786.8 480.4" />
<ellipse class="p" cx="783.0" cy="490.9" rx="2.2" ry="4.0" transform="rotate(-20.0 783.0 490.9)" />
<path class="k" d="M789.8 492.4L795.7 486.4" />
<ellipse class="p" cx="792.0" cy="496.8" rx="2.2" ry="4.0" transform="rotate(-20.0 792.0 496.8)" />
<path class="k" d="M798.7 498.3L804.7 492.4" />
<ellipse class="p" cx="801.0" cy="502.8" rx="2.2" ry="4.0" transform="rotate(-20.0 801.0 502.8)" />
<path class="k" d="M807.7 504.3L813.7 498.3" />
<ellipse class="p" cx="809.9" cy="508.8" rx="2.2" ry="4.0" transform="rotate(-20.0 809.9 508.8)" />
<path class="p" d="M777.8 489.4L810.7 510.3L819.7 505.8" />
<path class="p" d="M771.8 484.9L804.7 505.8" />
<path class="k" d="M813.7 510.3C812.9 511.6 809.4 515.0 809.2 517.8C809.0 520.5 811.7 525.3 812.2 526.8" />
<path class="p" d="M817.4 511.1C816.8 512.4 813.8 516.5 813.7 519.3C813.6 522.0 816.2 526.1 816.7 527.5" />
<path class="k" d="M824.2 516.3C823.4 517.5 819.9 521.0 819.7 523.8C819.4 526.5 822.2 531.2 822.7 532.7" />
<path class="p" d="M827.9 517.0C827.3 518.4 824.3 522.5 824.2 525.3C824.0 528.0 826.7 532.1 827.2 533.5" />
<path class="k" d="M834.6 522.3C833.9 523.5 830.4 527.0 830.1 529.8C829.9 532.5 832.6 537.2 833.1 538.7" />
<path class="p" d="M838.4 523.0C837.7 524.4 834.8 528.5 834.6 531.2C834.5 534.0 837.1 538.1 837.6 539.5" />
<path class="k" d="M843.6 528.3C842.9 529.5 839.4 533.0 839.1 535.7C838.9 538.5 841.6 543.2 842.1 544.7" />
<path class="p" d="M847.3 529.0C846.7 530.4 843.7 534.5 843.6 537.2C843.5 540.0 846.1 544.1 846.6 545.5" />
<ellipse class="k" cx="847.3" cy="531.2" rx="5.0" ry="9.0" transform="rotate(-25.0 847.3 531.2)" />
<ellipse class="p" cx="847.3" cy="531.2" rx="2.5" ry="5.0" transform="rotate(-25.0 847.3 531.2)" />
<path class="k" d="M804.7 523.8L810.7 532.7L819.7 529.8" />
<path class="p" d="M855.6 544.7L864.5 535.7L876.5 541.7" />
<path class="kw" d="M847.3 564.9L873.5 549.9L877.3 555.9L851.1 571.6Z" />
<ellipse class="pw" cx="849.6" cy="568.3" rx="3.0" ry="4.5" transform="rotate(-20.0 849.6 568.3)" />
<!-- 50_housing_b.svg -->
<path class="p" d="M829.5 597.2C832.3 595.2 832.4 593.3 840.0 589.8C847.6 586.2 848.8 587.8 858.0 583.8C867.1 579.8 866.0 576.4 874.4 574.8C882.8 573.2 879.8 573.4 889.4 577.8C898.9 582.2 904.7 587.7 910.3 591.2" />
<path class="t" d="M829.5 599.9C832.3 598.0 832.4 596.3 840.0 592.7C847.6 589.1 848.8 590.5 858.0 586.4C867.1 582.3 866.0 578.9 874.4 577.3C882.8 575.7 879.8 576.2 889.4 580.4C898.9 584.6 904.7 589.7 910.3 593.1" />
<path class="p" d="M829.5 602.5C832.3 600.7 832.4 599.3 840.0 595.7C847.6 592.1 848.8 593.3 858.0 589.0C867.1 584.8 866.0 581.3 874.4 579.7C882.8 578.1 879.8 579.0 889.4 583.1C898.9 587.1 904.7 591.7 910.3 594.9" />
<path class="t" d="M829.5 605.1C832.3 603.4 832.4 602.2 840.0 598.6C847.6 595.0 848.8 596.1 858.0 591.7C867.1 587.3 866.0 583.8 874.4 582.2C882.8 580.6 879.8 581.8 889.4 585.7C898.9 589.5 904.7 593.7 910.3 596.7" />
<path class="p" d="M829.5 607.8C832.3 606.1 832.4 605.2 840.0 601.6C847.6 598.0 848.8 598.8 858.0 594.3C867.1 589.8 866.0 586.3 874.4 584.7C882.8 583.1 879.8 584.6 889.4 588.3C898.9 592.0 904.7 595.8 910.3 598.5" />
<path class="t" d="M829.5 610.4C832.3 608.8 832.4 608.2 840.0 604.6C847.6 601.0 848.8 601.6 858.0 596.9C867.1 592.3 866.0 588.7 874.4 587.1C882.8 585.5 879.8 587.4 889.4 590.9C898.9 594.5 904.7 597.8 910.3 600.3" />
<path class="p" d="M829.5 613.0C832.3 611.6 832.4 611.1 840.0 607.5C847.6 603.9 848.8 604.3 858.0 599.6C867.1 594.8 866.0 591.2 874.4 589.6C882.8 588.0 879.8 590.2 889.4 593.6C898.9 596.9 904.7 599.8 910.3 602.1" />
<path class="k" d="M840.0 583.8C844.0 582.2 847.0 582.6 855.0 577.8C862.9 573.0 863.5 569.8 869.9 565.8C876.3 561.8 876.5 563.6 878.9 562.8" />
<path class="p" d="M858.0 570.3C860.3 572.3 865.7 572.6 866.9 577.8C868.1 583.0 863.6 586.6 862.4 589.8" />
<path class="k" d="M877.4 559.8L901.3 549.4L937.2 584.5L921.5 598.0L877.4 559.8" />
<path class="p" d="M880.4 570.3L917.8 601.7" />
<path class="p" d="M884.9 565.8L896.8 558.3" />
<path class="k" d="M905.8 562.8L912.6 569.1" />
<path class="k" d="M905.8 562.8L905.1 570.3L909.6 568.8" />
<path class="k" d="M923.8 581.5L930.5 587.8" />
<path class="k" d="M923.8 581.5L923.0 589.0L927.5 587.5" />
<path class="k" d="M889.4 552.4L892.4 559.8" />
<path class="k" d="M883.4 555.3L886.4 562.8" />
<path class="k" d="M855.0 616.7L868.4 607.7" />
<path class="k" d="M855.0 616.7L859.4 609.2" />
<path class="k" d="M921.5 598.0L905.8 610.7L899.8 613.7" />
<path class="k" d="M932.7 589.8L911.8 612.2" />
<path class="k" d="M937.2 584.5L947.7 595.7" />
<path class="p" d="M840.0 603.2L902.8 652.6" />
<path class="k" d="M840.0 619.7L896.8 675.0" />
<path class="p" d="M862.4 609.9L935.7 666.0" />
<path class="p" d="M899.8 613.7L937.2 643.6" />
<path class="p" d="M865.4 654.1C870.6 651.3 874.1 650.8 884.9 643.6C895.6 636.4 900.2 631.5 905.8 627.2" />
<path class="p" d="M874.4 661.6C880.4 658.8 885.3 658.3 896.8 651.1C908.4 643.9 912.2 639.0 917.8 634.6" />
<path class="p" d="M846.0 634.6C850.4 631.8 853.7 629.7 862.4 624.2C871.2 618.6 874.5 616.5 878.9 613.7" />
<path class="k" d="M948.5 595.7C947.1 601.3 946.6 606.3 943.2 616.7C939.8 627.1 940.9 624.7 935.7 634.6C930.6 644.6 934.1 643.7 923.8 654.1C913.4 664.4 904.0 668.3 896.8 673.5" />
<path class="k" d="M951.4 599.5C950.2 604.9 949.9 609.5 947.0 619.7C944.0 629.8 944.8 627.6 940.2 637.6C935.6 647.6 940.1 646.3 929.8 657.1C919.4 667.8 908.9 672.4 901.3 678.0" />
<path class="k" d="M896.8 673.5C897.2 675.1 896.7 676.7 898.3 679.5C899.9 682.3 901.6 682.8 902.8 684.0" />
<path class="p" d="M896.8 673.5L950.7 643.6" />
<path class="p" d="M901.3 678.0L935.7 661.6" />
<path class="p" d="M910.3 670.5L923.8 667.5" />
<path class="k" d="M953.7 618.2L942.5 652.6" />
<path class="p" d="M957.9 620.9L946.7 655.3" />
<path class="k" d="M962.1 623.6L950.8 658.0" />
<path class="p" d="M966.3 626.3L955.0 660.7" />
<path class="k" d="M970.4 628.9L959.2 663.4" />
<path class="p" d="M974.6 631.6L963.4 666.0" />
<path class="k" d="M950.7 604.7L974.6 619.7" />
<path class="p" d="M953.7 613.7L974.6 627.2" />
<path class="k" d="M962.7 610.7L959.7 618.2" />
<path class="k" d="M968.6 613.7L967.2 619.7" />
<path class="k" d="M974.6 619.7L970.1 649.6" />
<path class="p" d="M979.1 622.7L975.4 649.6" />
<path class="p" d="M943.2 652.6L968.6 669.0" />
<path class="p" d="M935.7 634.6L953.7 649.6" />
<path class="k" d="M926.8 676.5L964.2 658.6L975.4 672.0L939.5 690.7Z" />
<path class="k" d="M926.8 676.5L926.0 684.0L929.8 681.8" />
<path class="p" d="M939.5 690.7L964.2 678.0L975.4 672.0" />
<path class="p" d="M935.7 667.5L947.7 684.0" />
<path class="p" d="M949.2 676.5L955.2 664.5" />
<path class="k" d="M974.6 640.6L989.6 664.5" />
<path class="k" d="M983.6 634.6L1001.6 649.6" />
<path class="k" d="M989.6 664.5C992.4 664.9 997.7 661.3 1000.1 666.0C1002.5 670.8 1003.0 673.4 998.6 682.5C994.2 691.6 987.6 695.3 983.6 700.0" />
<path class="k" d="M995.6 661.6C998.4 662.4 1003.6 658.6 1006.0 664.5C1008.4 670.5 1008.5 674.5 1004.5 684.0C1000.6 693.4 994.7 695.7 991.1 700.0" />
<path class="p" d="M983.6 634.6L1012.0 619.7" />
<path class="k" d="M989.6 643.6L1016.5 628.6" />
<path class="p" d="M998.6 649.6L1028.5 633.1" />
<path class="k" d="M1004.5 658.6L1033.0 643.6" />
<path class="k" d="M1009.0 676.5L1040.0 658.6" />
<path class="p" d="M1010.5 684.0L1040.0 666.0" />
<path class="k" d="M1001.6 622.7L1010.5 634.6" />
<path class="p" d="M1016.5 628.6L1024.0 639.1" />
<path class="k" d="M953.7 604.7L959.7 597.2" />
<path class="k" d="M959.7 618.2L974.6 607.7L983.6 613.7" />
<path class="k" d="M964.2 613.7L967.2 609.2" />
<path class="k" d="M987.3 621.2L991.1 628.6" />
<path class="k" d="M1010.5 672.0L1013.5 679.5" />
<ellipse class="k" cx="1000.8" cy="690.7" rx="3.0" ry="4.0" transform="rotate(-25.0 1000.8 690.7)" />
<path class="p" d="M902.8 684.0L923.8 700.0" />
<path class="p" d="M967.2 679.5L983.6 700.0" />
<path class="p" d="M904.3 676.5C907.9 678.9 912.6 679.2 917.8 685.5C923.0 691.8 922.2 696.1 923.8 700.0" />
<!-- 50_housing_c.svg -->
<path class="k" style="stroke-width:3" d="M1115.4 727.0C1117.6 730.3 1119.8 730.3 1123.6 739.7C1127.4 749.0 1128.4 750.1 1129.6 762.1C1130.8 774.1 1130.5 772.6 1128.1 784.5C1125.7 796.5 1124.6 797.5 1120.6 807.0C1116.6 816.4 1115.1 816.5 1113.1 820.0" />
<path class="k" d="M1115.4 727.0L1136.3 714.5L1149.8 733.7L1129.6 747.2" />
<path class="p" d="M1136.3 714.5L1129.6 703.8" />
<path class="p" d="M1149.8 733.7L1161.8 738.2" />
<path class="p" d="M1129.6 750.1L1152.0 736.7" />
<path class="k" d="M1161.8 736.7C1162.0 741.5 1163.4 743.9 1162.8 754.6C1162.2 765.4 1162.8 765.9 1159.5 777.1C1156.2 788.2 1156.9 787.9 1150.5 796.5C1144.1 805.1 1139.6 805.8 1135.6 809.2" />
<path class="p" d="M1161.8 736.7L1170.7 744.5L1166.2 750.1L1162.8 748.6" />
<path class="k" d="M1135.6 809.2L1127.3 814.5" />
<path class="p" d="M1144.5 805.5L1131.1 814.5" />
<path class="k" d="M1069.8 684.3L1083.2 690.3L1090.7 697.8L1084.7 697.8" />
<path class="k" d="M1069.8 672.4L1087.7 669.4" />
<path class="k" d="M1087.7 669.4C1090.9 671.0 1093.3 671.4 1099.7 675.3C1106.1 679.3 1108.4 681.9 1111.6 684.3" />
<path class="k" d="M1090.7 694.8L1102.7 687.3L1107.2 685.8" />
<path class="p" d="M1102.7 687.3L1111.6 694.8L1129.6 715.7" />
<path class="p" d="M1107.2 685.8L1131.1 712.7" />
<path class="p" d="M1107.2 685.8C1110.3 689.0 1113.5 690.6 1119.1 697.8C1124.7 705.0 1125.7 708.8 1128.1 712.7" />
<path class="k" d="M1051.8 724.7L1102.7 694.8L1107.2 700.8L1057.8 730.7Z" />
<path class="p" d="M1063.8 726.2L1084.7 714.2" />
<path class="p" d="M1068.3 729.2L1089.2 717.2" />
<path class="p" d="M1060.8 723.2L1084.7 709.8" />
<ellipse class="k" cx="1042.8" cy="733.7" rx="40.4" ry="40.4" transform="rotate(0.0 1042.8 733.7)" />
<ellipse class="k" cx="1042.8" cy="733.7" rx="32.2" ry="35.2" transform="rotate(-15.0 1042.8 733.7)" />
<ellipse class="k" style="stroke-width:3" cx="1042.8" cy="732.9" rx="18.7" ry="22.4" transform="rotate(-20.0 1042.8 732.9)" />
<ellipse class="k" cx="1042.8" cy="732.2" rx="12.7" ry="16.2" transform="rotate(-20.0 1042.8 732.2)" />
<ellipse class="p" cx="1042.1" cy="731.4" rx="9.0" ry="12.0" transform="rotate(-20.0 1042.1 731.4)" />
<ellipse class="k" cx="1041.3" cy="730.7" rx="6.0" ry="8.2" transform="rotate(-20.0 1041.3 730.7)" />
<ellipse class="p" cx="1044.3" cy="735.2" rx="15.0" ry="19.1" transform="rotate(-20.0 1044.3 735.2)" />
<ellipse class="k" cx="1102.7" cy="732.2" rx="12.7" ry="13.8" transform="rotate(-15.0 1102.7 732.2)" />
<ellipse class="k" cx="1103.4" cy="732.5" rx="9.0" ry="9.9" transform="rotate(-15.0 1103.4 732.5)" />
<ellipse class="k" cx="1104.2" cy="732.9" rx="4.8" ry="5.4" transform="rotate(-15.0 1104.2 732.9)" />
<ellipse class="p" cx="1098.2" cy="733.7" rx="10.5" ry="12.7" transform="rotate(-15.0 1098.2 733.7)" />
<path class="k" d="M1063.8 730.7L1087.7 718.7L1090.7 723.2" />
<path class="k" d="M1069.8 733.7C1071.3 736.5 1074.9 738.6 1075.7 744.2C1076.5 749.7 1073.5 751.8 1072.7 754.6" />
<path class="p" d="M1075.7 731.4C1077.3 734.4 1080.9 736.9 1081.7 742.7C1082.5 748.4 1079.5 750.3 1078.7 753.1" />
<path class="k" d="M1084.7 727.7L1087.7 747.2" />
<path class="k" d="M1063.8 766.6L1111.6 739.7" />
<path class="k" d="M1066.8 771.1L1114.6 745.7" />
<path class="k" d="M1060.8 768.1L1069.8 775.6" />
<circle cx="1053.3" cy="685.8" r="2.4" fill="#000"/>
<circle cx="1030.9" cy="697.0" r="2.1" fill="#000"/>
<circle cx="1118.4" cy="748.6" r="2.7" fill="#000"/>
<circle cx="1080.2" cy="768.1" r="2.7" fill="#000"/>
<circle cx="1070.5" cy="772.6" r="2.4" fill="#000"/>
<circle cx="1012.2" cy="759.9" r="2.1" fill="#000"/>
<circle cx="990.5" cy="762.9" r="2.4" fill="#000"/>
<path class="k" d="M1044.3 703.8L1063.8 690.3L1065.3 712.7" />
<path class="p" d="M1050.3 701.5L1061.5 694.8" />
<path class="k" d="M1036.8 703.8L1044.3 709.8" />
<path class="p" d="M1023.4 688.8L1057.8 690.3" />
<path class="k" d="M1014.4 697.8C1017.2 696.2 1019.7 692.6 1024.9 691.8C1030.1 691.0 1031.5 694.0 1033.9 694.8" />
<path class="k" d="M980.0 636.5L999.4 620.0" />
<path class="k" d="M999.4 648.4L1024.9 633.5" />
<path class="k" d="M1008.4 655.9L1029.4 642.4" />
<path class="p" d="M1009.9 664.9L1039.8 664.9" />
<path class="k" d="M1005.4 673.9L1042.8 675.3" />
<path class="p" d="M1023.4 682.8L1051.8 681.3" />
<path class="k" d="M1009.9 679.8L1012.2 672.4" />
<path class="p" d="M1014.4 629.0L1027.9 636.5" />
<path class="k" d="M989.0 626.0L980.0 633.5" />
<path class="k" d="M980.0 649.9L992.0 658.9L1002.4 664.9" />
<path class="p" d="M980.0 669.4L998.0 670.9" />
<path class="k" d="M989.0 664.9C991.4 668.1 996.4 670.1 998.0 676.8C999.5 683.6 998.2 683.9 995.0 690.3C991.8 696.7 988.4 698.0 986.0 700.8" />
<path class="p" d="M995.0 664.9C997.4 668.1 1002.3 669.7 1003.9 676.8C1005.5 684.0 1003.7 684.6 1000.9 691.8C998.2 699.0 995.5 700.6 993.5 703.8" />
<ellipse class="k" cx="999.4" cy="690.3" rx="2.4" ry="3.3" transform="rotate(-20.0 999.4 690.3)" />
<ellipse class="k" cx="987.5" cy="728.5" rx="3.0" ry="3.9" transform="rotate(-20.0 987.5 728.5)" />
<path class="p" d="M980.0 709.8L998.0 700.8" />
<path class="k" d="M980.0 717.2L1002.4 705.3" />
<path class="k" d="M984.5 735.2L996.5 715.7" />
<path class="k" d="M1002.4 709.8L1008.4 703.8" />
<path class="k" d="M1009.9 626.0L1027.9 635.0" />
<path class="k" d="M980.0 763.6L1042.8 820.0" />
<path class="p" d="M989.0 760.6L1029.4 738.2" />
<path class="p" d="M992.0 765.8L1032.4 744.2" />
<path class="p" d="M980.0 772.6L1017.4 751.6" />
<path class="p" d="M980.0 784.5L1014.4 765.1" />
<path class="p" d="M1003.9 769.6L1057.8 820.0" />
<path class="p" d="M1014.4 765.1L1069.8 814.5" />
<path class="k" d="M1033.9 798.0L1039.8 789.0L1131.1 738.2" />
<path class="k" d="M1039.8 801.0L1050.3 789.0" />
<path class="k" d="M1045.8 784.5L1051.8 790.5L1129.6 747.2" />
<path d="M1033.9 799.5L1039.8 790.5L1042.8 795.0Z" fill="#000"/>
<path class="k" d="M1075.7 778.6C1080.5 777.8 1084.9 773.2 1093.7 775.6C1102.5 778.0 1103.1 779.6 1108.6 787.5C1114.2 795.5 1113.0 800.7 1114.6 805.5" />
<path class="k" d="M1084.7 781.6C1088.3 782.0 1092.2 779.1 1098.2 783.1C1104.2 787.0 1104.0 789.7 1107.2 796.5C1110.3 803.3 1109.3 805.3 1110.1 808.5" />
<path class="p" d="M1093.7 766.6C1098.5 767.4 1104.5 764.8 1111.6 769.6C1118.8 774.4 1118.2 780.6 1120.6 784.5" />
<path class="p" d="M1099.7 763.6C1103.7 764.4 1108.6 762.6 1114.6 766.6C1120.6 770.6 1120.1 775.4 1122.1 778.6" />
<path class="p" d="M1104.2 762.1C1107.7 762.5 1112.4 760.4 1117.6 763.6C1122.8 766.8 1122.0 771.3 1123.6 774.1" />
<path class="k" d="M1083.2 781.6C1084.4 783.6 1084.1 787.8 1087.7 789.0C1091.3 790.2 1095.1 788.0 1096.7 786.0C1098.3 784.0 1094.5 782.8 1093.7 781.6" />
<ellipse class="k" cx="1068.3" cy="791.3" rx="2.7" ry="3.9" transform="rotate(-20.0 1068.3 791.3)" />
<path class="k" d="M1068.3 787.5L1084.7 780.1" />
<path class="p" d="M1069.8 795.8L1081.7 789.0" />
<ellipse class="k" cx="1110.1" cy="806.2" rx="3.3" ry="3.9" transform="rotate(0.0 1110.1 806.2)" />
<path class="p" d="M1107.9 804.0L1112.4 808.8" />
<circle cx="1128.1" cy="803.7" r="3.6" fill="#000"/>
<path class="p" d="M1072.7 799.5L1096.7 820.0" />
<path class="p" d="M1063.8 799.5L1090.7 784.5" />
<path class="p" d="M1075.7 807.0L1096.7 795.0" />
<path class="k" d="M1123.6 808.5L1137.1 813.0" />
<path class="p" d="M980.0 771.1L1029.4 741.2" stroke-dasharray="12 4"/>
<path class="p" d="M980.0 787.5L1039.8 751.6" stroke-dasharray="12 4"/>
<path class="p" d="M1057.8 820.0L1099.7 793.5" stroke-dasharray="14 4"/>
<!-- 50_housing_d.svg -->
<path class="k" d="M1076.9 833.8L1084.4 841.3L1141.9 806.3" />
<path class="p" d="M1074.4 838.8L1111.9 816.3" />
<ellipse class="k" cx="1078.2" cy="836.3" rx="1.5" ry="2.1" transform="rotate(-20.0 1078.2 836.3)" />
<path class="k" d="M1084.4 848.8L1138.1 813.8" />
<path class="p" d="M1052.0 818.8L1062.0 808.8L1076.9 822.5" />
<path class="k" d="M1032.0 793.8L1076.9 833.8" />
<path class="p" d="M1067.0 803.8L1096.9 822.5" />
</g>
<!-- 60_p49.svg -->
<defs><pattern id="mesh" width="6.4" height="6.4" patternUnits="userSpaceOnUse" patternTransform="rotate(24)"><rect width="6.4" height="6.4" fill="#fff"/><path d="M0 0H6.4M0 0V6.4" stroke="#000" stroke-width="5.2"/></pattern>
<clipPath id="c49"><path d="M1043.9 447.8C1044.9 443.3 1035.0 447.9 1049.9 440.3C1064.9 432.7 1118.0 409.1 1133.7 402.2C1149.4 395.2 1141.2 397.5 1144.2 398.4C1147.2 399.3 1149.8 402.2 1151.6 407.4C1153.5 412.6 1155.4 423.6 1155.4 429.8C1155.4 436.1 1154.5 440.6 1151.6 444.8C1148.8 449.0 1143.2 452.1 1138.2 455.3C1133.2 458.4 1126.5 460.8 1121.7 463.5C1117.0 466.2 1113.2 468.1 1109.8 471.7C1106.3 475.3 1103.5 481.4 1100.8 485.2C1098.0 488.9 1098.0 491.4 1093.3 494.2C1088.6 496.9 1079.1 501.1 1072.4 501.6C1065.6 502.1 1057.4 499.6 1052.9 497.2C1048.4 494.7 1046.9 491.7 1045.4 486.7C1043.9 481.7 1044.2 473.7 1043.9 467.2C1043.7 460.8 1042.9 452.3 1043.9 447.8Z"/></clipPath></defs>
<path class="pw" d="M1043.9 515.1L1061.9 504.6L1078.3 525.6L1052.2 541.3Z" />
<ellipse class="b" cx="1046.2" cy="528.6" rx="7.2" ry="13.2" transform="rotate(-25.0 1046.2 528.6)" />
<ellipse class="tw" cx="1046.6" cy="528.9" rx="3.3" ry="6.0" transform="rotate(-25.0 1046.6 528.9)" />
<path class="pw" d="M1057.4 498.6L1070.9 521.1L1077.6 522.9L1111.2 502.4L1103.8 486.7" />
<path class="t" d="M1070.9 521.1L1072.4 517.3" />
<path class="pw" d="M1033.5 447.8C1034.2 442.8 1036.7 440.1 1039.4 437.3C1042.2 434.6 1034.5 438.3 1049.9 431.3C1065.4 424.4 1117.0 402.2 1132.2 395.4C1147.4 388.7 1137.9 390.9 1141.2 390.9C1144.4 390.9 1148.9 392.4 1151.6 395.4C1154.4 398.4 1156.1 403.2 1157.6 408.9C1159.1 414.6 1161.1 423.9 1160.6 429.8C1160.1 435.8 1158.1 440.1 1154.6 444.8C1151.1 449.5 1145.2 454.6 1139.7 458.3C1134.2 461.9 1126.6 463.7 1121.7 466.5C1116.9 469.2 1113.9 471.1 1110.5 474.7C1107.1 478.3 1104.1 484.4 1101.5 488.2C1098.9 491.9 1099.9 494.2 1094.8 497.2C1089.7 500.1 1078.3 505.6 1070.9 506.1C1063.4 506.6 1055.7 502.9 1049.9 500.1C1044.2 497.4 1038.9 495.2 1036.5 489.7C1034.0 484.2 1035.5 474.2 1035.0 467.2C1034.5 460.3 1032.7 452.8 1033.5 447.8Z" style="stroke-width:1.6"/>
<path class="t" d="M1038.0 447.8C1039.5 445.4 1018.4 451.8 1043.9 438.8C1069.5 425.8 1107.4 410.9 1133.7 399.2C1160.0 387.4 1137.9 394.5 1142.7 394.7C1147.4 394.9 1149.2 398.5 1151.6 399.9" />
<path class="t" d="M1040.9 449.3C1042.5 446.9 1022.2 453.3 1046.9 440.3C1071.7 427.3 1110.6 411.2 1133.7 400.7" />
<path class="t" d="M1038.0 449.3C1038.3 459.7 1036.3 475.4 1039.4 488.2C1042.6 500.9 1047.1 494.8 1049.9 497.2" />
<path class="t" d="M1040.9 450.8 L1042.4 486.7" />
<path d="M1043.9 447.8C1044.9 443.3 1035.0 447.9 1049.9 440.3C1064.9 432.7 1118.0 409.1 1133.7 402.2C1149.4 395.2 1141.2 397.5 1144.2 398.4C1147.2 399.3 1149.8 402.2 1151.6 407.4C1153.5 412.6 1155.4 423.6 1155.4 429.8C1155.4 436.1 1154.5 440.6 1151.6 444.8C1148.8 449.0 1143.2 452.1 1138.2 455.3C1133.2 458.4 1126.5 460.8 1121.7 463.5C1117.0 466.2 1113.2 468.1 1109.8 471.7C1106.3 475.3 1103.5 481.4 1100.8 485.2C1098.0 488.9 1098.0 491.4 1093.3 494.2C1088.6 496.9 1079.1 501.1 1072.4 501.6C1065.6 502.1 1057.4 499.6 1052.9 497.2C1048.4 494.7 1046.9 491.7 1045.4 486.7C1043.9 481.7 1044.2 473.7 1043.9 467.2C1043.7 460.8 1042.9 452.3 1043.9 447.8Z" fill="url(#mesh)" stroke="#000" stroke-width="1.5"/>
<path class="pw" d="M1075.3 453.8L1133.7 426.8L1134.4 444.8L1077.6 473.2Z" style="stroke-width:1.6"/>
<path class="p" d="M1076.1 459.8L1133.7 432.8" />
<path class="t" d="M1079.8 453.8L1130.7 429.8" />
<path class="p" d="M1100.8 442.6L1101.5 462.0" />
<path class="t" d="M1103.8 440.3L1104.5 459.8" />
<path class="p" d="M1082.8 450.3L1084.0 457.1" />
<path class="p" d="M1090.3 446.9L1091.5 453.6" />
<path class="p" d="M1097.8 443.4L1099.0 450.2" />
<path class="p" d="M1109.8 437.9L1110.9 444.7" />
<path class="p" d="M1117.2 434.5L1118.4 441.2" />
<path class="p" d="M1124.7 431.1L1125.9 437.8" />
<path class="t" d="M1076.8 465.7L1134.4 438.8" />
<path class="p" d="M1070.9 440.3L1074.6 447.0L1076.8 441.8" />
<path class="p" d="M1079.5 436.3L1083.3 443.0L1085.5 437.8" />
<path class="p" d="M1088.2 432.2L1092.0 439.0L1094.2 433.7" />
<path class="p" d="M1096.9 428.2L1100.6 434.9L1102.9 429.7" />
<path class="p" d="M1105.6 424.2L1109.3 430.9L1111.5 425.6" />
<path class="p" d="M1114.2 420.1L1118.0 426.8L1120.2 421.6" />
<path class="p" d="M1122.9 416.1L1126.7 422.8L1128.9 417.6" />
<!-- 61_p48.svg -->
<path class="pw" d="M1143.4 504.6L1195.0 480.2L1198.8 483.7L1198.8 500.1L1147.2 527.1L1144.2 524.1Z" />
<path class="p" d="M1147.2 527.1L1146.4 507.6L1198.8 483.7" />
<path class="p" d="M1143.4 504.6L1146.4 507.6" />
<ellipse class="p" cx="1153.1" cy="513.9" rx="3.3" ry="2.1" transform="rotate(-30.0 1153.1 513.9)" />
<ellipse class="p" cx="1191.3" cy="494.5" rx="3.3" ry="2.1" transform="rotate(-30.0 1191.3 494.5)" />
<path class="pw" d="M1194.0 557.0L1197.0 555.0L1206.0 565.0L1209.0 566.0L1208.0 570.0L1203.0 571.0L1202.0 568.0L1193.0 560.0Z" />
<path class="k" d="M1203.0 571.0L1209.0 566.0" />
<path class="b" d="M1230.0 541.0L1238.0 536.0L1245.0 546.0L1237.0 551.0Z" />
<path class="pw" d="M1237.0 547.0L1247.0 553.0L1245.0 557.0L1235.0 551.0Z" />
<path class="tw" d="M954.5 390.5L1017.0 353.5L1021.0 358.5L957.5 397.5Z" />
<ellipse class="tw" cx="956.0" cy="394.0" rx="2.5" ry="3.8" transform="rotate(-25.0 956.0 394.0)" />
</g>
<g id="lines">
<path d="M203 381 L574 639" stroke="#000" stroke-width="1.7" fill="none" stroke-dasharray="9.5 4"/>
<path d="M640 680 L672.5 699.5 L800 610" stroke="#000" stroke-width="1.7" fill="none" stroke-dasharray="27 3.5 4 3.5"/>
<path d="M677 358 L690 346 L756.7 395 L597.5 493.5 L753 607.7" stroke="#000" stroke-width="1.7" fill="none" stroke-dasharray="27 3.5 4 3.5"/>
<path d="M753 607.7 L850 540" stroke="#000" stroke-width="1.7" fill="none" stroke-dasharray="9.5 4"/>
<path d="M589 418.6 L672 363" stroke="#000" stroke-width="1.7" fill="none" stroke-dasharray="9.5 4"/>
<path d="M946.5 338.7 L1247 549 L1316 604 L1138 712.6" stroke="#000" stroke-width="1.4" fill="none" stroke-dasharray="27 3.5 4 3.5"/>
<path d="M377.4 1051 L228.7 931.7" stroke="#000" stroke-width="1.7" fill="none" stroke-dasharray="9.5 4"/>
<path d="M228.7 931.7 L489 761.5" stroke="#000" stroke-width="1.7" fill="none" stroke-dasharray="14 3 3 3"/>
<path d="M401.8 1044.8 L870 752" stroke="#000" stroke-width="1.7" fill="none" stroke-dasharray="14 3 3 3"/>
<path d="M870.4 750 L888 740 L951.5 790 L1040 738" stroke="#000" stroke-width="1.7" fill="none" stroke-dasharray="27 3.5 4 3.5"/>
<path d="M1060 745 L960.3 800 L1017.3 845" stroke="#000" stroke-width="1.7" fill="none" stroke-dasharray="27 3.5 4 3.5"/>
<path d="M1017.3 845 L671.4 1052.3" stroke="#000" stroke-width="1.7" fill="none" stroke-dasharray="14 3 3 3"/>
<path d="M346.1 999.1L402.3 964.9M437.3 943.6L509.8 900M544 878.7L616.4 835M651.6 814.3L723.6 771M759 749.6L815.4 715M438.6 1073L496 1038.6M530.2 1017.3L602.7 974.9M637.7 953.6L710.1 910M745.1 888.7L817.5 846.2M851.6 825L909 790M346.1 999.1L438.6 1073M815.4 715L909 790" stroke="#000" stroke-width="1.8" fill="none"/>
</g>
<g id="labels" style="opacity:0.999">
<circle cx="757.7" cy="1016.5" r="3.6" fill="#000"/>
<text class="lb" transform="translate(0,264.0) scale(0.800,1)" font-size="36.7" stroke-width="1.1" x="261.7" y="0.0">1</text>
<path d="M239 271H196L141 329" stroke="#000" stroke-width="2.1" fill="none" stroke-linejoin="round"/>
<circle cx="141" cy="329" r="3.6" fill="#000"/>
<text class="lb" transform="translate(0,352.0) scale(0.800,1)" font-size="35.4" stroke-width="1.1" x="387.4" y="0.0">2</text>
<path d="M339 361H297L253.5 414" stroke="#000" stroke-width="2.1" fill="none" stroke-linejoin="round"/>
<circle cx="253.5" cy="414" r="3.6" fill="#000"/>
<text class="lb" transform="translate(0,402.5) scale(0.800,1)" font-size="36.1" stroke-width="1.1" x="457.5" y="0.0">3</text>
<path d="M396 410.5H353.5L314.3 446.8" stroke="#000" stroke-width="2.1" fill="none" stroke-linejoin="round"/>
<circle cx="314.3" cy="446.8" r="3.6" fill="#000"/>
<text class="lb" transform="translate(0,437.5) scale(0.800,1)" font-size="36.1" stroke-width="1.1" x="521.6" y="0.0">4</text>
<path d="M447.7 445.5H404L352.7 483.6" stroke="#000" stroke-width="2.1" fill="none" stroke-linejoin="round"/>
<circle cx="352.7" cy="483.6" r="3.6" fill="#000"/>
<text class="lb" transform="translate(0,478.0) scale(0.800,1)" font-size="35.4" stroke-width="1.1" x="588.4" y="0.0">5</text>
<path d="M501 487H458L412.7 517.3" stroke="#000" stroke-width="2.1" fill="none" stroke-linejoin="round"/>
<circle cx="412.7" cy="517.3" r="3.6" fill="#000"/>
<text class="lb" transform="translate(0,511.0) scale(0.800,1)" font-size="35.4" stroke-width="1.1" x="649.6" y="0.0">6</text>
<path d="M551 519H509L456.4 547.3" stroke="#000" stroke-width="2.1" fill="none" stroke-linejoin="round"/>
<text class="lb" transform="translate(0,542.0) scale(0.800,1)" font-size="35.4" stroke-width="1.1" x="712.4" y="0.0">7</text>
<path d="M600 550.5H556L505 578" stroke="#000" stroke-width="2.1" fill="none" stroke-linejoin="round"/>
<circle cx="505" cy="578" r="3.6" fill="#000"/>
<text class="lb" transform="translate(0,580.5) scale(0.800,1)" font-size="35.4" stroke-width="1.1" x="769.4" y="0.0">8</text>
<path d="M646.5 589.5H604L554 611.5" stroke="#000" stroke-width="2.1" fill="none" stroke-linejoin="round"/>
<text class="lb" transform="translate(0,629.5) scale(0.800,1)" font-size="35.4" stroke-width="1.1" x="857.0" y="0.0">9</text>
<path d="M716.7 637.7H673L621 664" stroke="#000" stroke-width="2.1" fill="none" stroke-linejoin="round"/>
<circle cx="621" cy="664" r="3.6" fill="#000"/>
<text class="lb" transform="translate(0,363.6) scale(0.800,1)" font-size="35.5" stroke-width="1.1" x="694.0 714.7" y="0.0 0.0">11</text>
<path d="M549 371.4H591L611 393.6" stroke="#000" stroke-width="2.1" fill="none" stroke-linejoin="round"/>
<circle cx="611" cy="393.6" r="3.6" fill="#000"/>
<text class="lb" transform="translate(0,342.4) scale(0.800,1)" font-size="35.9" stroke-width="1.1" x="745.1 765.1" y="0.0 0.0">12</text>
<path d="M592.5 350H636L642.5 376" stroke="#000" stroke-width="2.1" fill="none" stroke-linejoin="round"/>
<circle cx="642.5" cy="376" r="3.6" fill="#000"/>
<text class="lb" transform="translate(0,311.5) scale(0.800,1)" font-size="35.4" stroke-width="1.1" x="790.9 812.5" y="0.0 0.0">13</text>
<path d="M630 320H671.8L674 362" stroke="#000" stroke-width="2.1" fill="none" stroke-linejoin="round"/>
<circle cx="674" cy="362" r="3.6" fill="#000"/>
<text class="lb" transform="translate(0,734.0) scale(0.800,1)" font-size="35.9" stroke-width="1.1" x="418.9 438.2" y="0.0 0.0">14</text>
<path d="M331.5 741H375L412.7 794" stroke="#000" stroke-width="2.1" fill="none" stroke-linejoin="round"/>
<circle cx="412.7" cy="794" r="3.6" fill="#000"/>
<text class="lb" transform="translate(0,701.5) scale(0.800,1)" font-size="36.1" stroke-width="1.1" x="475.1 496.7" y="0.0 0.0">43</text>
<path d="M375 709.4H417.7L455 745" stroke="#000" stroke-width="2.1" fill="none" stroke-linejoin="round"/>
<circle cx="455" cy="745" r="3.6" fill="#000"/>
<text class="lb" transform="translate(0,760.0) scale(0.800,1)" font-size="37.3" stroke-width="1.1" x="363.2 382.5" y="0.0 0.0">42</text>
<path d="M286 767H328.5L367.5 832.5" stroke="#000" stroke-width="2.1" fill="none" stroke-linejoin="round"/>
<circle cx="367.5" cy="832.5" r="3.6" fill="#000"/>
<text class="lb" transform="translate(0,799.0) scale(0.800,1)" font-size="38.1" stroke-width="1.1" x="318.1 338.0" y="0.0 0.0">41</text>
<path d="M247 805.8H290L303 818" stroke="#000" stroke-width="2.1" fill="none" stroke-linejoin="round"/>
<text class="lb" transform="translate(0,840.0) scale(0.800,1)" font-size="35.8" stroke-width="1.1" x="271.5 291.3" y="0.0 0.0">40</text>
<path d="M212 848H255L282.4 875" stroke="#000" stroke-width="2.1" fill="none" stroke-linejoin="round"/>
<text class="lb" transform="translate(0,665.0) scale(0.800,1)" font-size="35.4" stroke-width="1.1" x="215.3 236.0" y="0.0 0.0">61</text>
<path d="M210 674H166L100 570" stroke="#000" stroke-width="2.1" fill="none" stroke-linejoin="round"/>
<circle cx="100" cy="570" r="3.6" fill="#000"/>
<path d="M788.3 684.5H805.4" stroke="#000" stroke-width="1.7" fill="none"/>
<text class="lb" transform="translate(0,696.4) scale(0.800,1)" font-size="35.9" stroke-width="1.1" x="944.8 963.6 989.6 1003.9" y="0.0 0.0 -2.0 0.0">39-1</text>
<path d="M743 703H826.6L851.6 760" stroke="#000" stroke-width="2.1" fill="none" stroke-linejoin="round"/>
<circle cx="851.6" cy="760" r="3.6" fill="#000"/>
<path d="M732.0 722.1H747.0" stroke="#000" stroke-width="1.7" fill="none"/>
<text class="lb" transform="translate(0,734.0) scale(0.800,1)" font-size="35.9" stroke-width="1.1" x="874.4 893.2 917.9 934.5" y="0.0 0.0 -2.0 0.0">39-2</text>
<path d="M689 741H774L830.4 792.6" stroke="#000" stroke-width="2.1" fill="none" stroke-linejoin="round"/>
<circle cx="830.4" cy="792.6" r="3.6" fill="#000"/>
<path d="M655.4 739.9H671.0" stroke="#000" stroke-width="1.7" fill="none"/>
<text class="lb" transform="translate(0,752.0) scale(0.800,1)" font-size="36.7" stroke-width="1.1" x="777.8 797.0 822.4 839.2" y="0.0 0.0 -2.1 0.0">39-3</text>
<path d="M613.3 760H696.5L765.7 798.7" stroke="#000" stroke-width="2.1" fill="none" stroke-linejoin="round"/>
<circle cx="765.7" cy="798.7" r="3.6" fill="#000"/>
<path d="M629.2 782.9H643.5" stroke="#000" stroke-width="1.7" fill="none"/>
<text class="lb" transform="translate(0,795.0) scale(0.800,1)" font-size="36.7" stroke-width="1.1" x="745.1 764.3 788.8 805.8" y="0.0 0.0 -2.1 0.0">39-4</text>
<path d="M588 802.5H672.2L719.9 838.6" stroke="#000" stroke-width="2.1" fill="none" stroke-linejoin="round"/>
<circle cx="719.9" cy="838.6" r="3.6" fill="#000"/>
<path d="M558.0 814.6H574.1" stroke="#000" stroke-width="1.7" fill="none"/>
<text class="lb" transform="translate(0,826.5) scale(0.800,1)" font-size="36.1" stroke-width="1.1" x="656.8 675.7 701.1 717.3" y="0.0 0.0 -2.0 0.0">39-5</text>
<path d="M515 833.3H597.5L648.8 857.5" stroke="#000" stroke-width="2.1" fill="none" stroke-linejoin="round"/>
<circle cx="648.8" cy="857.5" r="3.6" fill="#000"/>
<path d="M501.8 852.1H517.0" stroke="#000" stroke-width="1.7" fill="none"/>
<text class="lb" transform="translate(0,864.0) scale(0.800,1)" font-size="36.1" stroke-width="1.1" x="586.5 605.4 630.2 646.0" y="0.0 0.0 -2.0 0.0">39-6</text>
<path d="M459 872.5H544L620.2 897.5" stroke="#000" stroke-width="2.1" fill="none" stroke-linejoin="round"/>
<circle cx="620.2" cy="897.5" r="3.6" fill="#000"/>
<path d="M449.8 890.1H464.0" stroke="#000" stroke-width="1.7" fill="none"/>
<text class="lb" transform="translate(0,902.4) scale(0.800,1)" font-size="37.3" stroke-width="1.1" x="520.4 539.8 564.4 580.2" y="0.0 0.0 -2.1 0.0">39-7</text>
<path d="M407.3 909.2H492.3L556 930" stroke="#000" stroke-width="2.1" fill="none" stroke-linejoin="round"/>
<path d="M376.3 917.6H389.9" stroke="#000" stroke-width="1.7" fill="none"/>
<text class="lb" transform="translate(0,930.0) scale(0.800,1)" font-size="37.6" stroke-width="1.1" x="428.3 447.8 472.2 487.1" y="0.0 0.0 -2.1 0.0">39-8</text>
<path d="M332.4 936.9H417.3L496 977.4" stroke="#000" stroke-width="2.1" fill="none" stroke-linejoin="round"/>
<circle cx="496" cy="977.4" r="3.6" fill="#000"/>
<path d="M338.6 958.7H352.5" stroke="#000" stroke-width="1.7" fill="none"/>
<text class="lb" transform="translate(0,971.0) scale(0.800,1)" font-size="37.3" stroke-width="1.1" x="381.4 400.8 425.3 440.3" y="0.0 0.0 -2.1 0.0">39-9</text>
<path d="M295 979.4H380L419.8 1016" stroke="#000" stroke-width="2.1" fill="none" stroke-linejoin="round"/>
<circle cx="419.8" cy="1016" r="3.6" fill="#000"/>
<text class="lb" transform="translate(0,1056.0) scale(0.800,1)" font-size="37.3" stroke-width="1.1" x="365.9 385.8" y="0.0 0.0">39</text>
<path d="M287.4 1063.6H331L401.8 1044.8" stroke="#000" stroke-width="2.1" fill="none" stroke-linejoin="round"/>
<circle cx="401.8" cy="1044.8" r="3.6" fill="#000"/>
<text class="lb" transform="translate(0,1014.8) scale(0.800,1)" font-size="37.3" stroke-width="1.1" x="739.7 756.1" y="0.0 0.0">31</text>
<path d="M567.7 1021.8H643.9L695.6 1044.8" stroke="#000" stroke-width="2.1" fill="none" stroke-linejoin="round"/>
<circle cx="695.6" cy="1044.8" r="3.6" fill="#000"/>
<text class="lb" transform="translate(0,974.9) scale(0.800,1)" font-size="35.8" stroke-width="1.1" x="847.3 868.3" y="0.0 0.0">32</text>
<path d="M673.9 983H716.3L733 996" stroke="#000" stroke-width="2.1" fill="none" stroke-linejoin="round"/>
<text class="lb" transform="translate(0,937.4) scale(0.800,1)" font-size="35.6" stroke-width="1.1" x="919.3 940.4" y="0.0 0.0">33</text>
<path d="M731.3 944.9H772.5L801.3 972.4" stroke="#000" stroke-width="2.1" fill="none" stroke-linejoin="round"/>
<circle cx="801.3" cy="972.4" r="3.6" fill="#000"/>
<text class="lb" transform="translate(0,907.4) scale(0.800,1)" font-size="37.3" stroke-width="1.1" x="978.4 998.0" y="0.0 0.0">34</text>
<path d="M780 915H822.5" stroke="#000" stroke-width="2.1" fill="none" stroke-linejoin="round"/>
<text class="lb" transform="translate(0,887.4) scale(0.800,1)" font-size="37.3" stroke-width="1.1" x="1042.4 1063.2" y="0.0 0.0">35</text>
<path d="M830 895.4H872.4L887.4 922.4" stroke="#000" stroke-width="2.1" fill="none" stroke-linejoin="round"/>
<circle cx="887.4" cy="922.4" r="3.6" fill="#000"/>
<text class="lb" transform="translate(0,856.2) scale(0.800,1)" font-size="37.4" stroke-width="1.1" x="1098.7 1118.5" y="0.0 0.0">36</text>
<path d="M874.9 864.5H917.4L933.6 892.4" stroke="#000" stroke-width="2.1" fill="none" stroke-linejoin="round"/>
<circle cx="933.6" cy="892.4" r="3.6" fill="#000"/>
<text class="lb" transform="translate(0,961.1) scale(0.800,1)" font-size="37.3" stroke-width="1.1" x="1167.3 1188.1" y="0.0 0.0">37</text>
<path d="M928.6 969.1H972.4L979.9 892.4" stroke="#000" stroke-width="2.1" fill="none" stroke-linejoin="round"/>
<circle cx="979.9" cy="892.4" r="3.6" fill="#000"/>
<text class="lb" transform="translate(0,926.2) scale(0.800,1)" font-size="37.4" stroke-width="1.1" x="1287.5 1307.6" y="0.0 0.0">38</text>
<path d="M1068.5 934.4H1026L1014.8 877.4" stroke="#000" stroke-width="2.1" fill="none" stroke-linejoin="round"/>
<circle cx="1014.8" cy="877.4" r="3.6" fill="#000"/>
<text class="lb" transform="translate(0,329.0) scale(0.720,1)" font-size="31.3" stroke-width="0.35" x="1378.8 1398.3" y="0.0 0.0">50</text>
<path d="M979 334.4H1038L1008 367.4" stroke="#000" stroke-width="1.1" fill="none" stroke-linejoin="round"/>
<circle cx="1008" cy="367.4" r="3.0" fill="#000"/>
<text class="lb" transform="translate(0,367.5) scale(0.720,1)" font-size="30.6" stroke-width="0.35" x="1541.1 1556.8" y="0.0 0.0">49</text>
<path d="M1092 373H1150.6L1108 415" stroke="#000" stroke-width="1.1" fill="none" stroke-linejoin="round"/>
<circle cx="1108" cy="415" r="3.0" fill="#000"/>
<text class="lb" transform="translate(0,445.0) scale(0.720,1)" font-size="31.3" stroke-width="0.35" x="1641.5 1657.5" y="0.0 0.0">48</text>
<path d="M1164 450.6H1223L1177 492" stroke="#000" stroke-width="1.1" fill="none" stroke-linejoin="round"/>
<circle cx="1177" cy="492" r="3.0" fill="#000"/>
<text class="lb" transform="translate(0,495.0) scale(0.720,1)" font-size="31.3" stroke-width="0.35" x="1688.7 1704.4" y="0.0 0.0">47</text>
<path d="M1199 500.5H1257L1235.6 543.5" stroke="#000" stroke-width="1.1" fill="none" stroke-linejoin="round"/>
<circle cx="1235.6" cy="543.5" r="3.0" fill="#000"/>
</g>
</svg>
</body></html>
